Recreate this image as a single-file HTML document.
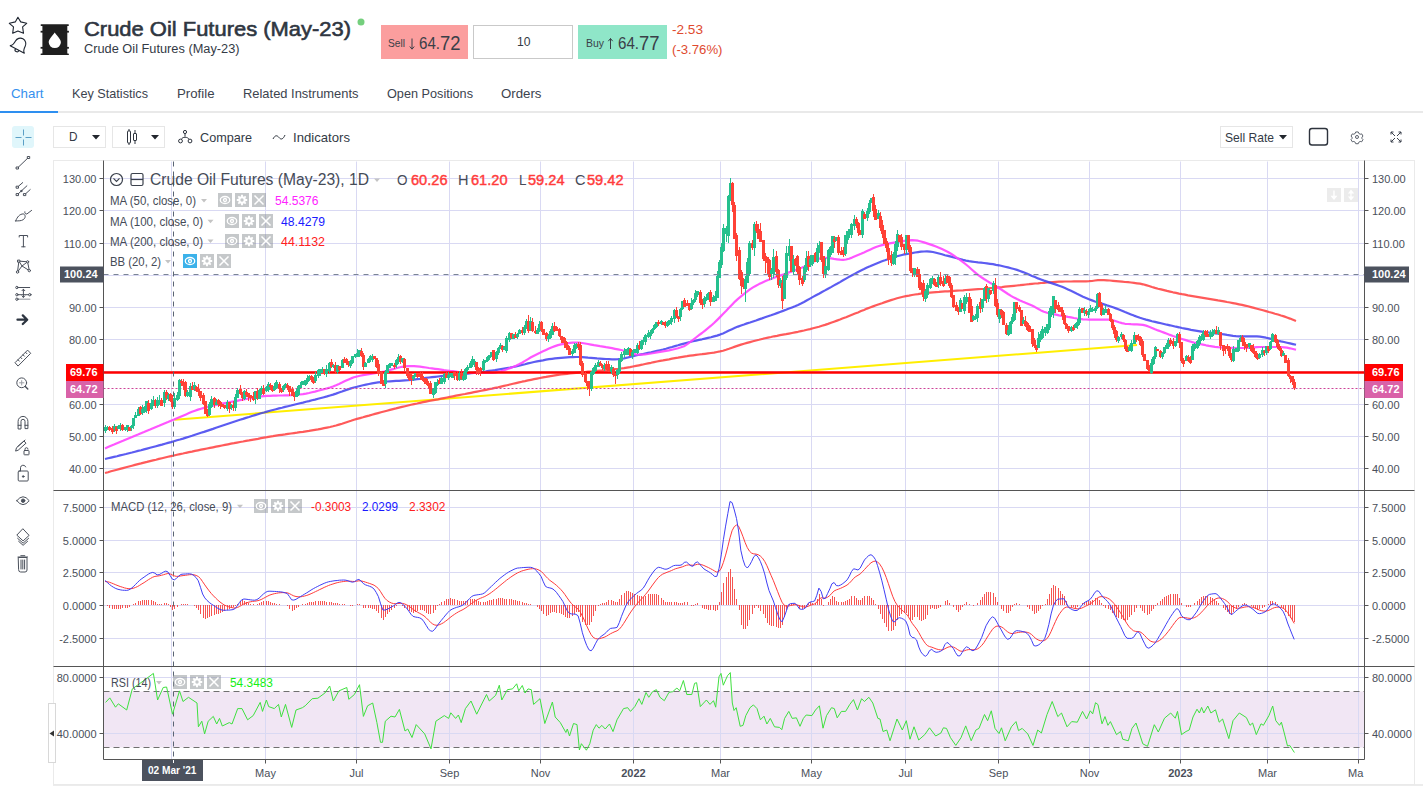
<!DOCTYPE html>
<html lang="en"><head><meta charset="utf-8"><title>Crude Oil Futures (May-23)</title><style>
html,body{margin:0;padding:0;background:#fff}
body{width:1423px;height:786px;position:relative;overflow:hidden;font-family:"Liberation Sans",sans-serif}
.t{position:absolute;white-space:nowrap;display:inline-block;transform-origin:0 50%}
.b{position:absolute;box-sizing:border-box}
svg{position:absolute;left:0;top:0}
</style></head><body>

<div class="b" style="left:380.500px;top:25px;width:87.500px;height:34px;background:#fb9e9e"></div>
<div class="b" style="left:473px;top:25px;width:100px;height:34px;border:1px solid #c9c9c9;background:#fff"></div>
<div class="b" style="left:577.500px;top:25px;width:89.500px;height:34px;background:#8fe6c8"></div>
<div class="b" style="left:0;top:111px;width:1423px;height:2px;background:#e9e9e9"></div>
<div class="b" style="left:0;top:110.500px;width:58px;height:2.500px;background:#2e8ff0"></div>
<div class="b" style="left:53px;top:126px;width:52.500px;height:21.500px;border:1px solid #e6e6e6"></div>
<div class="b" style="left:112px;top:126px;width:52.500px;height:21.500px;border:1px solid #e6e6e6"></div>
<div class="b" style="left:1219.500px;top:126px;width:73px;height:21.500px;border:1px solid #e6e6e6"></div>
<svg width="1423" height="786" viewBox="0 0 1423 786" style="position:absolute;left:0;top:0" font-family="'Liberation Sans', sans-serif">
<rect x="53" y="784" width="1370" height="2" fill="#ececec"/>
<rect x="53.5" y="160.5" width="1361.0" height="624.0" fill="#fff" stroke="#eaeaea"/>
<rect x="104.0" y="691.5" width="1260.0" height="56" fill="#f1e6f4"/>
<path d="M171.5 161.5V759.5M265.5 161.5V759.5M356.5 161.5V759.5M449.5 161.5V759.5M540.5 161.5V759.5M633.5 161.5V759.5M720.5 161.5V759.5M811.5 161.5V759.5M905.5 161.5V759.5M998.5 161.5V759.5M1089.5 161.5V759.5M1180.5 161.5V759.5M1267.5 161.5V759.5M1358.5 161.5V759.5M103.5 178.5H1364.5M103.5 210.5H1364.5M103.5 243.5H1364.5M103.5 275.5H1364.5M103.5 307.5H1364.5M103.5 339.5H1364.5M103.5 371.5H1364.5M103.5 404.5H1364.5M103.5 436.5H1364.5M103.5 468.5H1364.5M103.5 507.5H1364.5M103.5 540.5H1364.5M103.5 572.5H1364.5M103.5 605.5H1364.5M103.5 638.5H1364.5M103.5 677.5H1364.5M103.5 733.5H1364.5" stroke="#d9d9f3" stroke-width="1" fill="none"/>
<path d="M103.5 691.5H1364.5M103.5 747.5H1364.5" stroke="#707070" stroke-width="1" stroke-dasharray="6 4" fill="none"/>
<line x1="174.4" y1="419.8" x2="1137" y2="345" stroke="#ffee00" stroke-width="2"/>
<polyline points="105,473 108,472.2 111,471.3 114,470.5 117,469.7 120,468.9 123,468.1 126,467.3 129,466.5 132,465.7 135,464.9 138,464.1 141,463.4 144,462.6 147,461.9 150,461.1 153,460.4 156,459.7 159,458.9 162,458.2 165,457.5 168,456.8 171,456.1 174,455.5 177,454.8 180,454.1 183,453.5 186,452.8 189,452.2 192,451.6 195,450.9 198,450.3 201,449.7 204,449.1 207,448.5 210,447.9 213,447.3 216,446.7 219,446.1 222,445.5 225,444.9 228,444.3 231,443.7 234,443.2 237,442.6 240,442 243,441.5 246,440.9 249,440.4 252,439.8 255,439.3 258,438.8 261,438.2 264,437.7 267,437.2 270,436.6 273,436.2 276,435.7 279,435.2 282,434.8 285,434.4 288,433.9 291,433.5 294,433.1 297,432.7 300,432.2 303,431.8 306,431.3 309,430.9 312,430.4 315,429.9 318,429.4 321,428.8 324,428.2 327,427.6 330,427 333,426.3 336,425.5 339,424.6 342,423.7 345,422.7 348,421.7 351,420.8 354,419.8 357,418.9 360,418.1 363,417.3 366,416.4 369,415.6 372,414.7 375,413.9 378,413.1 381,412.3 384,411.5 387,410.7 390,409.9 393,409.1 396,408.4 399,407.6 402,406.9 405,406.2 408,405.5 411,404.8 414,404.1 417,403.5 420,402.8 423,402.2 426,401.6 429,401 432,400.4 435,399.8 438,399.3 441,398.7 444,398.1 447,397.5 450,396.9 453,396.3 456,395.7 459,395.1 462,394.5 465,394 468,393.4 471,392.8 474,392.2 477,391.6 480,391 483,390.4 486,389.8 489,389.2 492,388.6 495,387.9 498,387.3 501,386.6 504,385.9 507,385.2 510,384.5 513,383.8 516,383.1 519,382.4 522,381.7 525,381.1 528,380.4 531,379.8 534,379.2 537,378.6 540,378 543,377.4 546,376.9 549,376.3 552,375.8 555,375.3 558,374.9 561,374.5 564,374.1 567,373.8 570,373.5 573,373.2 576,372.9 579,372.6 582,372.3 585,372 588,371.7 591,371.5 594,371.2 597,370.9 600,370.6 603,370.4 606,370.1 609,369.8 612,369.5 615,369.2 618,368.9 621,368.5 624,368.1 627,367.6 630,367.1 633,366.5 636,365.9 639,365.3 642,364.7 645,364 648,363.4 651,362.8 654,362.1 657,361.5 660,360.9 663,360.4 666,359.8 669,359.3 672,358.7 675,358.2 678,357.7 681,357.1 684,356.6 687,356.2 690,355.7 693,355.3 696,354.9 699,354.5 702,354.2 705,353.8 708,353.4 711,353 714,352.6 717,352 720,351.4 723,350.7 726,349.8 729,348.8 732,347.7 735,346.6 738,345.6 741,344.6 744,343.7 747,342.9 750,342.1 753,341.3 756,340.5 759,339.8 762,339 765,338.3 768,337.6 771,337 774,336.3 777,335.8 780,335.2 783,334.7 786,334.2 789,333.6 792,333 795,332.4 798,331.8 801,331.1 804,330.5 807,329.8 810,329.1 813,328.3 816,327.5 819,326.7 822,325.8 825,324.9 828,323.9 831,322.8 834,321.7 837,320.6 840,319.5 843,318.3 846,317.2 849,316 852,314.8 855,313.6 858,312.4 861,311.1 864,309.9 867,308.6 870,307.5 873,306.4 876,305.3 879,304.2 882,303.2 885,302.1 888,301.1 891,300.1 894,299.2 897,298.3 900,297.5 903,296.8 906,296.1 909,295.6 912,295 915,294.5 918,294.1 921,293.6 924,293.3 927,292.9 930,292.6 933,292.3 936,292.1 939,291.9 942,291.6 945,291.4 948,291.3 951,291.1 954,290.9 957,290.7 960,290.5 963,290.3 966,290 969,289.8 972,289.6 975,289.4 978,289.2 981,289 984,288.8 987,288.5 990,288.2 993,288 996,287.7 999,287.4 1002,287.1 1005,286.7 1008,286.4 1011,286.1 1014,285.8 1017,285.5 1020,285.2 1023,284.8 1026,284.5 1029,284.2 1032,283.8 1035,283.5 1038,283.3 1041,283 1044,282.8 1047,282.5 1050,282.3 1053,282.1 1056,281.9 1059,281.7 1062,281.6 1065,281.5 1068,281.5 1071,281.5 1074,281.4 1077,281.4 1080,281.4 1083,281.3 1086,281.3 1089,281.2 1092,281 1095,280.5 1098,280.1 1101,280 1104,280.1 1107,280.3 1110,280.5 1113,280.8 1116,281.1 1119,281.4 1122,281.7 1125,282 1128,282.2 1131,282.5 1134,282.9 1137,283.3 1140,283.7 1143,284.3 1146,285.1 1149,286 1152,287 1155,287.9 1158,288.7 1161,289.4 1164,290.1 1167,290.9 1170,291.6 1173,292.3 1176,292.9 1179,293.6 1182,294.2 1185,294.7 1188,295.3 1191,295.8 1194,296.3 1197,296.8 1200,297.3 1203,297.8 1206,298.3 1209,298.8 1212,299.3 1215,299.8 1218,300.4 1221,300.9 1224,301.4 1227,302 1230,302.5 1233,303.1 1236,303.7 1239,304.3 1242,304.9 1245,305.6 1248,306.3 1251,307.1 1254,307.9 1257,308.7 1260,309.5 1263,310.3 1266,311.1 1269,312 1272,312.8 1275,313.7 1278,314.5 1281,315.5 1284,316.4 1287,317.5 1290,318.6 1293,319.8 1296,321" fill="none" stroke="#ff4848" stroke-opacity="0.9" stroke-width="2.2" stroke-linejoin="round"/>
<polyline points="105,459 108,458.3 111,457.6 114,456.9 117,456.2 120,455.4 123,454.7 126,454 129,453.2 132,452.5 135,451.7 138,450.9 141,450.2 144,449.4 147,448.6 150,447.8 153,447 156,446.2 159,445.4 162,444.6 165,443.7 168,442.9 171,442.1 174,441.2 177,440.3 180,439.5 183,438.6 186,437.6 189,436.7 192,435.8 195,434.8 198,433.8 201,432.8 204,431.9 207,430.9 210,429.9 213,428.9 216,427.8 219,426.8 222,425.8 225,424.8 228,423.8 231,422.8 234,421.8 237,420.8 240,419.8 243,418.9 246,417.9 249,417 252,416 255,415.1 258,414.2 261,413.3 264,412.5 267,411.6 270,410.8 273,410 276,409.2 279,408.4 282,407.7 285,406.9 288,406.2 291,405.5 294,404.7 297,404 300,403.3 303,402.6 306,401.8 309,401.1 312,400.3 315,399.6 318,398.8 321,398 324,397.2 327,396.4 330,395.5 333,394.6 336,393.6 339,392.5 342,391.5 345,390.4 348,389.4 351,388.4 354,387.5 357,386.8 360,386 363,385.3 366,384.6 369,384 372,383.4 375,382.9 378,382.4 381,382.1 384,381.8 387,381.5 390,381.3 393,381.1 396,380.9 399,380.8 402,380.6 405,380.4 408,380.2 411,379.9 414,379.6 417,379.2 420,378.8 423,378.3 426,377.9 429,377.5 432,377.1 435,376.8 438,376.5 441,376.2 444,375.9 447,375.6 450,375.3 453,375.1 456,374.8 459,374.5 462,374.2 465,373.9 468,373.6 471,373.2 474,372.9 477,372.5 480,372.2 483,371.8 486,371.4 489,370.9 492,370.5 495,370.1 498,369.6 501,369.1 504,368.6 507,368.1 510,367.6 513,367 516,366.4 519,365.7 522,364.9 525,364.2 528,363.4 531,362.7 534,362 537,361.4 540,360.8 543,360.3 546,359.7 549,359.2 552,358.8 555,358.4 558,358.1 561,357.8 564,357.6 567,357.4 570,357.2 573,357.1 576,357 579,357 582,357.1 585,357.3 588,357.6 591,357.8 594,358.1 597,358.4 600,358.6 603,358.8 606,359 609,359.1 612,359.3 615,359.3 618,359.2 621,358.8 624,358.3 627,357.7 630,356.9 633,356.2 636,355.5 639,354.8 642,354.2 645,353.5 648,352.9 651,352.3 654,351.6 657,350.9 660,350.2 663,349.5 666,348.7 669,347.8 672,347 675,346.1 678,345.3 681,344.4 684,343.6 687,342.8 690,342 693,341.3 696,340.6 699,339.9 702,339.3 705,338.6 708,337.9 711,337.2 714,336.4 717,335.6 720,334.6 723,333.4 726,332.1 729,330.6 732,329.2 735,327.8 738,326.6 741,325.5 744,324.5 747,323.4 750,322.5 753,321.5 756,320.5 759,319.4 762,318.4 765,317.3 768,316.3 771,315.3 774,314.2 777,313.1 780,312 783,310.9 786,309.8 789,308.6 792,307.4 795,306.2 798,304.9 801,303.5 804,302 807,300.3 810,298.6 813,296.9 816,295.3 819,293.7 822,292 825,290.4 828,288.7 831,287.1 834,285.4 837,283.8 840,282.1 843,280.3 846,278.6 849,276.9 852,275.2 855,273.6 858,272 861,270.5 864,269.1 867,267.6 870,266.3 873,264.9 876,263.7 879,262.5 882,261.3 885,260.3 888,259.2 891,258.2 894,257.2 897,256.3 900,255.5 903,254.7 906,254.1 909,253.6 912,253.1 915,252.5 918,252.1 921,251.7 924,251.5 927,251.4 930,251.6 933,252 936,252.7 939,253.5 942,254.3 945,255.2 948,255.9 951,256.6 954,257.5 957,258.3 960,259.1 963,259.9 966,260.6 969,261.2 972,261.6 975,262 978,262.4 981,262.7 984,263 987,263.4 990,263.8 993,264.2 996,264.8 999,265.3 1002,266 1005,266.7 1008,267.4 1011,268.2 1014,269 1017,269.9 1020,271 1023,272.1 1026,273.3 1029,274.6 1032,275.9 1035,277.1 1038,278.4 1041,279.5 1044,280.6 1047,281.6 1050,282.6 1053,283.6 1056,284.6 1059,285.7 1062,286.8 1065,288.1 1068,289.4 1071,290.8 1074,292.3 1077,293.8 1080,295.2 1083,296.7 1086,298 1089,299.3 1092,300.4 1095,301.5 1098,302.5 1101,303.4 1104,304.4 1107,305.4 1110,306.3 1113,307.3 1116,308.4 1119,309.5 1122,310.7 1125,312 1128,313.2 1131,314.4 1134,315.6 1137,316.7 1140,317.8 1143,318.7 1146,319.6 1149,320.4 1152,321.2 1155,321.9 1158,322.6 1161,323.3 1164,324 1167,324.7 1170,325.3 1173,326 1176,326.7 1179,327.3 1182,328 1185,328.6 1188,329.2 1191,329.8 1194,330.3 1197,330.8 1200,331.3 1203,331.8 1206,332.2 1209,332.5 1212,332.9 1215,333.3 1218,333.6 1221,334 1224,334.4 1227,334.9 1230,335.3 1233,335.8 1236,336.1 1239,336.3 1242,336.4 1245,336.4 1248,336.4 1251,336.4 1254,336.4 1257,336.4 1260,336.6 1263,337.1 1266,337.7 1269,338.4 1272,339.2 1275,340 1278,340.7 1281,341.4 1284,342 1287,342.7 1290,343.4 1293,344.1 1296,344.8" fill="none" stroke="#4040ee" stroke-opacity="0.85" stroke-width="2.2" stroke-linejoin="round"/>
<polyline points="105,448.4 108,447.1 111,445.8 114,444.6 117,443.3 120,442 123,440.8 126,439.5 129,438.2 132,437 135,435.7 138,434.5 141,433.2 144,432 147,430.7 150,429.5 153,428.2 156,427 159,425.8 162,424.5 165,423.3 168,422.1 171,420.8 174,419.6 177,418.3 180,417 183,415.7 186,414.4 189,413.1 192,411.8 195,410.7 198,409.6 201,408.7 204,407.9 207,407.1 210,406.3 213,405.6 216,404.9 219,404.3 222,403.7 225,403.1 228,402.5 231,401.9 234,401.3 237,400.8 240,400.2 243,399.6 246,399 249,398.4 252,397.8 255,397.3 258,396.8 261,396.4 264,396.1 267,395.9 270,395.8 273,395.7 276,395.6 279,395.5 282,395.5 285,395.4 288,395.3 291,395.2 294,395 297,394.8 300,394.5 303,394.1 306,393.6 309,393 312,392.3 315,391.6 318,390.8 321,390 324,389.2 327,388.4 330,387.5 333,386.5 336,385.3 339,384 342,382.6 345,381.1 348,379.7 351,378.4 354,377.3 357,376.5 360,375.8 363,375.1 366,374.6 369,374.1 372,373.6 375,373.1 378,372.6 381,372.1 384,371.5 387,370.7 390,369.9 393,369.1 396,368.2 399,367.5 402,366.8 405,366.3 408,366.1 411,366 414,366.1 417,366.4 420,366.7 423,367.1 426,367.5 429,368 432,368.4 435,368.8 438,369.2 441,369.6 444,370.1 447,370.5 450,370.9 453,371.2 456,371.6 459,372 462,372.4 465,372.7 468,372.9 471,373 474,373 477,373 480,373 483,373 486,373 489,373 492,372.9 495,372.6 498,372 501,371.2 504,370.2 507,369.2 510,368.1 513,367 516,365.8 519,364.3 522,362.7 525,360.9 528,359.1 531,357.3 534,355.7 537,354.2 540,352.8 543,351.3 546,349.9 549,348.5 552,347.2 555,346.1 558,345.1 561,344.4 564,343.8 567,343.3 570,342.9 573,342.6 576,342.5 579,342.7 582,343 585,343.5 588,344 591,344.6 594,345.2 597,345.7 600,346.2 603,346.6 606,347.2 609,347.7 612,348.2 615,348.8 618,349.4 621,350 624,350.8 627,351.8 630,352.8 633,353.7 636,354.4 639,354.7 642,354.6 645,354.4 648,354 651,353.5 654,353 657,352.4 660,351.8 663,351.3 666,350.8 669,350.3 672,349.7 675,349 678,348.2 681,347.3 684,346.2 687,344.4 690,342.2 693,339.9 696,337.5 699,335.2 702,333 705,330.6 708,328.2 711,325.7 714,323 717,320.1 720,317.1 723,314 726,311 729,307.8 732,304.7 735,301.6 738,298.9 741,296.4 744,293.9 747,291.6 750,289.4 753,287.4 756,285.7 759,284.1 762,282.7 765,281.3 768,280.1 771,278.9 774,277.7 777,276.6 780,275.6 783,274.6 786,273.5 789,272.4 792,271.4 795,270.3 798,269.1 801,267.9 804,266.7 807,265.4 810,263.9 813,262.1 816,260.3 819,258.8 822,257.9 825,257.8 828,258.1 831,258.4 834,258.9 837,259.3 840,259.7 843,259.8 846,259.5 849,258.7 852,257.6 855,256.3 858,255 861,253.8 864,252.5 867,251.1 870,249.7 873,248.3 876,247 879,246 882,245.1 885,244.4 888,243.7 891,243.1 894,242.6 897,242.1 900,241.6 903,241.1 906,240.7 909,240.4 912,240.2 915,240.3 918,240.7 921,241.5 924,242.4 927,243.4 930,244.4 933,245.4 936,246.5 939,247.7 942,249.1 945,250.5 948,252 951,253.8 954,255.7 957,257.8 960,259.9 963,262.2 966,264.5 969,267 972,269.7 975,272.3 978,274.8 981,277 984,279 987,280.9 990,282.7 993,284.4 996,286.2 999,288.1 1002,290 1005,292 1008,294 1011,295.9 1014,297.6 1017,299.1 1020,300.5 1023,301.8 1026,303 1029,304.3 1032,305.6 1035,307.1 1038,308.8 1041,310.4 1044,311.8 1047,312.7 1050,313.5 1053,314.1 1056,314.7 1059,315.3 1062,315.8 1065,316.3 1068,316.9 1071,317.4 1074,318 1077,318.5 1080,318.9 1083,319.3 1086,319.5 1089,319.6 1092,319.6 1095,319.6 1098,319.6 1101,319.6 1104,319.6 1107,319.6 1110,319.7 1113,320.2 1116,321.2 1119,322.2 1122,323.1 1125,323.8 1128,324 1131,324.2 1134,324.3 1137,324.4 1140,324.6 1143,324.9 1146,325.6 1149,326.7 1152,327.9 1155,329.2 1158,330.4 1161,331.5 1164,332.6 1167,333.7 1170,334.9 1173,336 1176,337 1179,338.1 1182,339 1185,339.9 1188,340.9 1191,341.7 1194,342.6 1197,343.3 1200,344 1203,344.6 1206,345.3 1209,345.9 1212,346.4 1215,346.9 1218,347.2 1221,347.4 1224,347.6 1227,347.7 1230,347.8 1233,347.9 1236,348 1239,348 1242,348 1245,347.9 1248,347.8 1251,347.6 1254,347.4 1257,347.2 1260,347 1263,347 1266,347 1269,347 1272,347 1275,347 1278,347 1281,347 1284,347.3 1287,347.7 1290,348.3 1293,349 1296,349.7" fill="none" stroke="#ff44ff" stroke-opacity="0.9" stroke-width="2.2" stroke-linejoin="round"/>
<line x1="103.5" y1="372.5" x2="1364.5" y2="372.5" stroke="#ff0000" stroke-width="2.5"/>
<line x1="103.5" y1="388.5" x2="1364.5" y2="388.5" stroke="#cc4499" stroke-width="1" stroke-dasharray="2 2"/>
<g shape-rendering="crispEdges"><path fill="#25c08e" d="M105 425h1V433h-1zM104 427h3V431h-3zM107 426h1V430h-1zM106 427h3V430h-3z"/><path fill="#ff4136" d="M109 426h1V431h-1zM108 427h3V430h-3zM112 426h1V434h-1zM111 428h3V432h-3z"/><path fill="#25c08e" d="M114 424h1V432h-1zM113 426h3V429h-3z"/><path fill="#ff4136" d="M116 426h1V434h-1zM115 427h3V431h-3z"/><path fill="#25c08e" d="M118 425h1V429h-1zM117 426h3V429h-3zM120 423h1V431h-1zM119 425h3V429h-3z"/><path fill="#ff4136" d="M122 424h1V431h-1zM121 425h3V430h-3z"/><path fill="#25c08e" d="M125 427h1V431h-1zM124 427h3V430h-3zM127 425h1V432h-1zM126 425h3V430h-3z"/><path fill="#ff4136" d="M129 427h1V431h-1zM128 427h3V431h-3z"/><path fill="#25c08e" d="M131 425h1V431h-1zM130 426h3V428h-3zM133 418h1V429h-1zM132 418h3V426h-3zM135 412h1V418h-1zM134 415h3V418h-3zM138 407h1V416h-1zM137 409h3V416h-3z"/><path fill="#ff4136" d="M140 406h1V415h-1zM139 407h3V414h-3z"/><path fill="#25c08e" d="M142 405h1V415h-1zM141 409h3V413h-3zM144 406h1V413h-1zM143 407h3V412h-3zM146 401h1V413h-1zM145 401h3V410h-3z"/><path fill="#ff4136" d="M148 400h1V414h-1zM147 403h3V411h-3z"/><path fill="#25c08e" d="M151 399h1V410h-1zM150 403h3V409h-3zM153 396h1V406h-1zM152 400h3V404h-3z"/><path fill="#ff4136" d="M155 399h1V408h-1zM154 400h3V406h-3z"/><path fill="#25c08e" d="M157 397h1V408h-1zM156 400h3V406h-3zM159 395h1V405h-1zM158 400h3V402h-3z"/><path fill="#ff4136" d="M161 398h1V406h-1zM160 400h3V406h-3z"/><path fill="#25c08e" d="M164 390h1V407h-1zM163 392h3V403h-3z"/><path fill="#ff4136" d="M166 390h1V400h-1zM165 392h3V398h-3z"/><path fill="#25c08e" d="M168 393h1V401h-1zM167 395h3V399h-3z"/><path fill="#ff4136" d="M170 393h1V402h-1zM169 394h3V401h-3zM172 395h1V409h-1zM171 399h3V407h-3z"/><path fill="#25c08e" d="M174 393h1V409h-1zM173 398h3V407h-3zM177 392h1V401h-1zM176 395h3V400h-3zM179 379h1V399h-1zM178 380h3V396h-3z"/><path fill="#ff4136" d="M181 379h1V386h-1zM180 381h3V383h-3zM183 379h1V390h-1zM182 383h3V386h-3zM185 381h1V397h-1zM184 382h3V396h-3z"/><path fill="#25c08e" d="M187 390h1V397h-1zM186 392h3V396h-3zM190 383h1V401h-1zM189 386h3V397h-3z"/><path fill="#ff4136" d="M192 382h1V390h-1zM191 386h3V390h-3z"/><path fill="#25c08e" d="M194 382h1V391h-1zM193 385h3V389h-3z"/><path fill="#ff4136" d="M196 386h1V392h-1zM195 387h3V391h-3zM198 384h1V396h-1zM197 389h3V392h-3zM200 391h1V401h-1zM199 391h3V398h-3zM203 393h1V405h-1zM202 395h3V404h-3zM205 401h1V414h-1zM204 401h3V414h-3zM207 409h1V417h-1zM206 410h3V416h-3z"/><path fill="#25c08e" d="M209 402h1V416h-1zM208 404h3V415h-3zM211 396h1V408h-1zM210 399h3V407h-3z"/><path fill="#ff4136" d="M214 397h1V408h-1zM213 398h3V405h-3z"/><path fill="#25c08e" d="M216 399h1V405h-1zM215 402h3V405h-3z"/><path fill="#ff4136" d="M218 399h1V407h-1zM217 400h3V404h-3zM220 401h1V409h-1zM219 402h3V406h-3zM222 404h1V407h-1zM221 404h3V407h-3zM224 405h1V409h-1zM223 405h3V408h-3z"/><path fill="#25c08e" d="M227 400h1V411h-1zM226 402h3V409h-3z"/><path fill="#ff4136" d="M229 402h1V413h-1zM228 402h3V409h-3z"/><path fill="#25c08e" d="M231 404h1V410h-1zM230 405h3V408h-3z"/><path fill="#ff4136" d="M233 401h1V411h-1zM232 405h3V408h-3z"/><path fill="#25c08e" d="M235 394h1V411h-1zM234 397h3V408h-3zM237 388h1V398h-1zM236 390h3V398h-3z"/><path fill="#ff4136" d="M240 385h1V395h-1zM239 389h3V394h-3zM242 392h1V401h-1zM241 393h3V398h-3z"/><path fill="#25c08e" d="M244 390h1V400h-1zM243 391h3V399h-3z"/><path fill="#ff4136" d="M246 389h1V397h-1zM245 392h3V395h-3zM248 393h1V401h-1zM247 393h3V397h-3zM250 395h1V402h-1zM249 395h3V398h-3zM253 392h1V401h-1zM252 396h3V400h-3z"/><path fill="#25c08e" d="M255 391h1V404h-1zM254 391h3V399h-3z"/><path fill="#ff4136" d="M257 388h1V400h-1zM256 391h3V398h-3z"/><path fill="#25c08e" d="M259 389h1V399h-1zM258 390h3V399h-3zM261 386h1V395h-1zM260 388h3V392h-3z"/><path fill="#ff4136" d="M263 385h1V395h-1zM262 389h3V394h-3z"/><path fill="#25c08e" d="M266 386h1V392h-1zM265 387h3V391h-3zM268 382h1V392h-1zM267 384h3V390h-3z"/><path fill="#ff4136" d="M270 383h1V390h-1zM269 385h3V387h-3zM272 385h1V392h-1zM271 386h3V391h-3z"/><path fill="#25c08e" d="M274 383h1V391h-1zM273 386h3V390h-3zM276 380h1V389h-1zM275 382h3V388h-3z"/><path fill="#ff4136" d="M279 382h1V393h-1zM278 384h3V389h-3zM281 388h1V393h-1zM280 388h3V392h-3z"/><path fill="#25c08e" d="M283 385h1V392h-1zM282 386h3V390h-3zM285 383h1V388h-1zM284 384h3V388h-3z"/><path fill="#ff4136" d="M287 383h1V390h-1zM286 385h3V388h-3zM289 386h1V396h-1zM288 386h3V392h-3zM292 387h1V396h-1zM291 389h3V396h-3zM294 392h1V401h-1zM293 394h3V397h-3z"/><path fill="#25c08e" d="M296 389h1V397h-1zM295 391h3V397h-3zM298 385h1V396h-1zM297 386h3V395h-3zM300 382h1V388h-1zM299 385h3V388h-3zM302 381h1V385h-1zM301 381h3V385h-3zM305 380h1V386h-1zM304 380h3V385h-3zM307 375h1V384h-1zM306 378h3V382h-3zM309 375h1V381h-1zM308 376h3V380h-3z"/><path fill="#ff4136" d="M311 375h1V382h-1zM310 376h3V380h-3zM313 377h1V384h-1zM312 377h3V383h-3z"/><path fill="#25c08e" d="M315 372h1V383h-1zM314 375h3V381h-3zM318 369h1V378h-1zM317 370h3V376h-3zM320 369h1V376h-1zM319 369h3V373h-3zM322 367h1V373h-1zM321 369h3V371h-3z"/><path fill="#ff4136" d="M324 369h1V375h-1zM323 369h3V373h-3z"/><path fill="#25c08e" d="M326 365h1V377h-1zM325 369h3V374h-3zM329 362h1V373h-1zM328 363h3V371h-3z"/><path fill="#ff4136" d="M331 359h1V368h-1zM330 362h3V367h-3z"/><path fill="#25c08e" d="M333 364h1V368h-1zM332 365h3V367h-3z"/><path fill="#ff4136" d="M335 362h1V374h-1zM334 365h3V372h-3z"/><path fill="#25c08e" d="M337 365h1V374h-1zM336 365h3V372h-3z"/><path fill="#ff4136" d="M339 366h1V371h-1zM338 366h3V370h-3z"/><path fill="#25c08e" d="M342 359h1V368h-1zM341 360h3V368h-3z"/><path fill="#ff4136" d="M344 357h1V363h-1zM343 359h3V363h-3zM346 358h1V365h-1zM345 359h3V363h-3zM348 361h1V367h-1zM347 361h3V365h-3z"/><path fill="#25c08e" d="M350 360h1V368h-1zM349 361h3V366h-3zM352 356h1V364h-1zM351 356h3V363h-3zM355 354h1V358h-1zM354 354h3V357h-3zM357 349h1V357h-1zM356 353h3V357h-3zM359 350h1V357h-1zM358 350h3V353h-3z"/><path fill="#ff4136" d="M361 348h1V357h-1zM360 351h3V356h-3zM363 353h1V370h-1zM362 355h3V367h-3z"/><path fill="#25c08e" d="M365 362h1V367h-1zM364 363h3V367h-3zM368 358h1V363h-1zM367 359h3V363h-3zM370 355h1V362h-1zM369 356h3V360h-3zM372 354h1V362h-1zM371 357h3V360h-3z"/><path fill="#ff4136" d="M374 356h1V359h-1zM373 356h3V359h-3zM376 358h1V368h-1zM375 358h3V367h-3zM378 360h1V376h-1zM377 364h3V374h-3zM381 371h1V384h-1zM380 372h3V384h-3zM383 380h1V386h-1zM382 382h3V386h-3z"/><path fill="#25c08e" d="M385 370h1V388h-1zM384 372h3V384h-3zM387 365h1V373h-1zM386 365h3V373h-3zM389 363h1V368h-1zM388 364h3V368h-3zM391 363h1V366h-1zM390 363h3V366h-3z"/><path fill="#ff4136" d="M394 363h1V369h-1zM393 365h3V367h-3z"/><path fill="#25c08e" d="M396 359h1V368h-1zM395 360h3V365h-3zM398 354h1V364h-1zM397 357h3V362h-3z"/><path fill="#ff4136" d="M400 355h1V364h-1zM399 356h3V362h-3z"/><path fill="#25c08e" d="M402 358h1V363h-1zM401 358h3V362h-3z"/><path fill="#ff4136" d="M404 358h1V371h-1zM403 359h3V368h-3zM407 368h1V378h-1zM406 368h3V376h-3zM409 374h1V381h-1zM408 374h3V380h-3zM411 373h1V385h-1zM410 375h3V380h-3z"/><path fill="#25c08e" d="M413 375h1V381h-1zM412 376h3V379h-3zM415 373h1V377h-1zM414 373h3V377h-3z"/><path fill="#ff4136" d="M417 373h1V378h-1zM416 373h3V377h-3zM420 372h1V380h-1zM419 373h3V377h-3zM422 372h1V381h-1zM421 376h3V380h-3zM424 378h1V384h-1zM423 378h3V382h-3zM426 378h1V385h-1zM425 379h3V384h-3zM428 381h1V388h-1zM427 383h3V386h-3zM430 381h1V394h-1zM429 383h3V394h-3z"/><path fill="#25c08e" d="M433 388h1V398h-1zM432 389h3V395h-3zM435 382h1V394h-1zM434 382h3V393h-3zM437 379h1V386h-1zM436 382h3V385h-3z"/><path fill="#ff4136" d="M439 378h1V384h-1zM438 380h3V384h-3z"/><path fill="#25c08e" d="M441 377h1V384h-1zM440 378h3V384h-3zM444 373h1V384h-1zM443 374h3V382h-3z"/><path fill="#ff4136" d="M446 372h1V378h-1zM445 374h3V378h-3z"/><path fill="#25c08e" d="M448 372h1V380h-1zM447 375h3V378h-3zM450 373h1V377h-1zM449 374h3V377h-3zM452 373h1V378h-1zM451 373h3V378h-3z"/><path fill="#ff4136" d="M454 372h1V380h-1zM453 372h3V376h-3zM457 371h1V381h-1zM456 374h3V380h-3z"/><path fill="#25c08e" d="M459 371h1V381h-1zM458 373h3V380h-3z"/><path fill="#ff4136" d="M461 369h1V380h-1zM460 373h3V379h-3z"/><path fill="#25c08e" d="M463 372h1V381h-1zM462 376h3V380h-3zM465 368h1V380h-1zM464 369h3V379h-3zM467 365h1V372h-1zM466 367h3V370h-3zM470 361h1V368h-1zM469 363h3V368h-3zM472 356h1V367h-1zM471 359h3V364h-3zM474 359h1V367h-1zM473 361h3V365h-3z"/><path fill="#ff4136" d="M476 362h1V375h-1zM475 362h3V370h-3zM478 367h1V375h-1zM477 369h3V373h-3zM480 367h1V376h-1zM479 368h3V371h-3z"/><path fill="#25c08e" d="M483 359h1V371h-1zM482 361h3V370h-3zM485 360h1V363h-1zM484 360h3V362h-3zM487 356h1V362h-1zM486 357h3V361h-3zM489 355h1V360h-1zM488 355h3V358h-3zM491 352h1V357h-1zM490 352h3V356h-3z"/><path fill="#ff4136" d="M493 350h1V361h-1zM492 350h3V360h-3z"/><path fill="#25c08e" d="M496 351h1V362h-1zM495 352h3V359h-3zM498 347h1V355h-1zM497 348h3V353h-3zM500 343h1V349h-1zM499 345h3V348h-3z"/><path fill="#ff4136" d="M502 345h1V352h-1zM501 346h3V350h-3z"/><path fill="#25c08e" d="M504 346h1V350h-1zM503 347h3V350h-3zM506 336h1V353h-1zM505 338h3V351h-3zM509 332h1V342h-1zM508 333h3V340h-3z"/><path fill="#ff4136" d="M511 333h1V339h-1zM510 333h3V338h-3z"/><path fill="#25c08e" d="M513 334h1V339h-1zM512 334h3V339h-3z"/><path fill="#ff4136" d="M515 332h1V338h-1zM514 335h3V338h-3z"/><path fill="#25c08e" d="M517 333h1V339h-1zM516 334h3V337h-3zM519 329h1V334h-1zM518 330h3V334h-3z"/><path fill="#ff4136" d="M522 327h1V335h-1zM521 330h3V333h-3z"/><path fill="#25c08e" d="M524 325h1V335h-1zM523 327h3V333h-3zM526 319h1V329h-1zM525 321h3V328h-3z"/><path fill="#ff4136" d="M528 315h1V333h-1zM527 321h3V331h-3z"/><path fill="#25c08e" d="M530 317h1V331h-1zM529 321h3V330h-3z"/><path fill="#ff4136" d="M532 318h1V332h-1zM531 322h3V331h-3zM535 326h1V334h-1zM534 331h3V333h-3z"/><path fill="#25c08e" d="M537 328h1V334h-1zM536 330h3V334h-3zM539 321h1V332h-1zM538 324h3V331h-3z"/><path fill="#ff4136" d="M541 321h1V332h-1zM540 322h3V330h-3zM543 329h1V335h-1zM542 329h3V335h-3zM546 332h1V341h-1zM545 333h3V339h-3z"/><path fill="#25c08e" d="M548 334h1V342h-1zM547 336h3V339h-3zM550 329h1V339h-1zM549 331h3V338h-3zM552 323h1V335h-1zM551 326h3V335h-3z"/><path fill="#ff4136" d="M554 322h1V332h-1zM553 326h3V331h-3zM556 326h1V331h-1zM555 327h3V331h-3zM559 328h1V337h-1zM558 329h3V336h-3zM561 336h1V343h-1zM560 336h3V340h-3zM563 337h1V343h-1zM562 337h3V343h-3zM565 338h1V348h-1zM564 341h3V348h-3zM567 342h1V350h-1zM566 345h3V350h-3zM569 346h1V355h-1zM568 348h3V355h-3z"/><path fill="#25c08e" d="M572 349h1V356h-1zM571 351h3V354h-3zM574 343h1V353h-1zM573 345h3V353h-3zM576 343h1V349h-1zM575 344h3V348h-3z"/><path fill="#ff4136" d="M578 342h1V350h-1zM577 344h3V347h-3zM580 342h1V366h-1zM579 345h3V365h-3zM582 361h1V377h-1zM581 363h3V375h-3zM585 372h1V383h-1zM584 373h3V382h-3zM587 381h1V390h-1zM586 381h3V386h-3zM589 381h1V396h-1zM588 383h3V389h-3z"/><path fill="#25c08e" d="M591 371h1V391h-1zM590 372h3V389h-3zM593 367h1V375h-1zM592 368h3V374h-3zM595 363h1V372h-1zM594 365h3V371h-3zM598 360h1V367h-1zM597 362h3V367h-3z"/><path fill="#ff4136" d="M600 361h1V366h-1zM599 363h3V366h-3zM602 364h1V370h-1zM601 365h3V368h-3z"/><path fill="#25c08e" d="M604 363h1V371h-1zM603 365h3V369h-3z"/><path fill="#ff4136" d="M606 361h1V370h-1zM605 364h3V369h-3zM608 361h1V372h-1zM607 364h3V371h-3z"/><path fill="#25c08e" d="M611 365h1V374h-1zM610 367h3V372h-3z"/><path fill="#ff4136" d="M613 367h1V377h-1zM612 369h3V375h-3zM615 373h1V384h-1zM614 373h3V376h-3z"/><path fill="#25c08e" d="M617 369h1V379h-1zM616 370h3V375h-3zM619 358h1V374h-1zM618 360h3V372h-3zM621 352h1V362h-1zM620 354h3V361h-3zM624 348h1V358h-1zM623 351h3V355h-3zM626 349h1V355h-1zM625 349h3V355h-3zM628 347h1V355h-1zM627 348h3V353h-3z"/><path fill="#ff4136" d="M630 348h1V356h-1zM629 349h3V356h-3z"/><path fill="#25c08e" d="M632 350h1V359h-1zM631 352h3V356h-3zM634 349h1V353h-1zM633 349h3V353h-3zM637 343h1V354h-1zM636 345h3V353h-3z"/><path fill="#ff4136" d="M639 341h1V350h-1zM638 345h3V349h-3z"/><path fill="#25c08e" d="M641 340h1V350h-1zM640 341h3V349h-3zM643 337h1V345h-1zM642 340h3V342h-3zM645 334h1V345h-1zM644 335h3V342h-3zM648 330h1V338h-1zM647 333h3V337h-3zM650 330h1V339h-1zM649 332h3V336h-3zM652 328h1V334h-1zM651 329h3V333h-3zM654 324h1V330h-1zM653 325h3V329h-3zM656 322h1V328h-1zM655 322h3V327h-3z"/><path fill="#ff4136" d="M658 320h1V326h-1zM657 322h3V324h-3z"/><path fill="#25c08e" d="M661 320h1V325h-1zM660 321h3V324h-3z"/><path fill="#ff4136" d="M663 322h1V325h-1zM662 322h3V325h-3zM665 321h1V328h-1zM664 322h3V326h-3z"/><path fill="#25c08e" d="M667 321h1V327h-1zM666 322h3V326h-3zM669 320h1V325h-1zM668 320h3V324h-3zM671 316h1V325h-1zM670 318h3V322h-3zM674 309h1V323h-1zM673 310h3V319h-3z"/><path fill="#ff4136" d="M676 307h1V318h-1zM675 310h3V316h-3zM678 316h1V322h-1zM677 316h3V319h-3z"/><path fill="#25c08e" d="M680 308h1V321h-1zM679 309h3V317h-3zM682 301h1V310h-1zM681 301h3V309h-3z"/><path fill="#ff4136" d="M684 298h1V307h-1zM683 300h3V307h-3zM687 300h1V306h-1zM686 303h3V306h-3zM689 303h1V311h-1zM688 305h3V310h-3z"/><path fill="#25c08e" d="M691 298h1V310h-1zM690 303h3V309h-3zM693 299h1V305h-1zM692 300h3V303h-3zM695 290h1V302h-1zM694 293h3V300h-3zM697 291h1V297h-1zM696 291h3V295h-3z"/><path fill="#ff4136" d="M700 290h1V305h-1zM699 292h3V303h-3zM702 299h1V309h-1zM701 299h3V305h-3z"/><path fill="#25c08e" d="M704 296h1V307h-1zM703 298h3V304h-3zM706 294h1V301h-1zM705 297h3V300h-3zM708 292h1V300h-1zM707 293h3V299h-3z"/><path fill="#ff4136" d="M710 290h1V306h-1zM709 292h3V302h-3z"/><path fill="#25c08e" d="M713 295h1V302h-1zM712 297h3V302h-3zM715 291h1V301h-1zM714 296h3V301h-3zM717 271h1V298h-1zM716 276h3V298h-3zM719 260h1V278h-1zM718 262h3V278h-3zM721 243h1V268h-1zM720 247h3V265h-3zM723 224h1V252h-1zM722 228h3V251h-3zM726 226h1V242h-1zM725 228h3V234h-3zM728 195h1V243h-1zM727 196h3V236h-3zM730 178h1V201h-1zM729 183h3V200h-3z"/><path fill="#ff4136" d="M732 182h1V212h-1zM731 183h3V205h-3zM734 202h1V239h-1zM733 205h3V239h-3zM736 233h1V261h-1zM735 235h3V256h-3zM739 247h1V280h-1zM738 250h3V279h-3zM741 270h1V294h-1zM740 272h3V286h-3zM743 278h1V289h-1zM742 281h3V287h-3z"/><path fill="#25c08e" d="M745 276h1V302h-1zM744 279h3V289h-3zM747 258h1V283h-1zM746 262h3V283h-3zM749 241h1V276h-1zM748 243h3V274h-3z"/><path fill="#ff4136" d="M752 240h1V250h-1zM751 243h3V248h-3z"/><path fill="#25c08e" d="M754 222h1V256h-1zM753 224h3V248h-3z"/><path fill="#ff4136" d="M756 221h1V233h-1zM755 224h3V231h-3zM758 224h1V239h-1zM757 229h3V239h-3zM760 223h1V242h-1zM759 231h3V242h-3zM763 240h1V261h-1zM762 240h3V259h-3zM765 253h1V273h-1zM764 256h3V261h-3zM767 257h1V275h-1zM766 257h3V263h-3zM769 259h1V280h-1zM768 260h3V277h-3z"/><path fill="#25c08e" d="M771 268h1V280h-1zM770 270h3V274h-3zM773 249h1V278h-1zM772 257h3V274h-3z"/><path fill="#ff4136" d="M776 251h1V277h-1zM775 256h3V272h-3zM778 269h1V288h-1zM777 270h3V285h-3z"/><path fill="#25c08e" d="M780 278h1V288h-1zM779 280h3V286h-3z"/><path fill="#ff4136" d="M782 276h1V309h-1zM781 283h3V301h-3z"/><path fill="#25c08e" d="M784 273h1V299h-1zM783 275h3V299h-3zM786 246h1V280h-1zM785 253h3V278h-3zM789 239h1V261h-1zM788 246h3V256h-3z"/><path fill="#ff4136" d="M791 246h1V272h-1zM790 246h3V272h-3z"/><path fill="#25c08e" d="M793 255h1V275h-1zM792 259h3V272h-3z"/><path fill="#ff4136" d="M795 258h1V266h-1zM794 259h3V265h-3zM797 255h1V275h-1zM796 256h3V272h-3zM799 266h1V285h-1zM798 267h3V280h-3zM802 276h1V286h-1zM801 278h3V284h-3z"/><path fill="#25c08e" d="M804 265h1V282h-1zM803 267h3V280h-3zM806 251h1V272h-1zM805 258h3V270h-3z"/><path fill="#ff4136" d="M808 251h1V271h-1zM807 256h3V267h-3z"/><path fill="#25c08e" d="M810 255h1V267h-1zM809 259h3V265h-3zM812 255h1V266h-1zM811 255h3V264h-3z"/><path fill="#ff4136" d="M815 252h1V262h-1zM814 253h3V262h-3z"/><path fill="#25c08e" d="M817 243h1V263h-1zM816 248h3V262h-3zM819 241h1V253h-1zM818 245h3V250h-3z"/><path fill="#ff4136" d="M821 242h1V262h-1zM820 242h3V260h-3zM823 256h1V278h-1zM822 256h3V274h-3z"/><path fill="#25c08e" d="M825 258h1V278h-1zM824 266h3V275h-3zM828 249h1V271h-1zM827 250h3V270h-3zM830 246h1V257h-1zM829 247h3V255h-3zM832 236h1V253h-1zM831 236h3V253h-3z"/><path fill="#ff4136" d="M834 236h1V248h-1zM833 239h3V242h-3z"/><path fill="#25c08e" d="M836 237h1V241h-1zM835 237h3V241h-3z"/><path fill="#ff4136" d="M838 235h1V255h-1zM837 237h3V253h-3zM841 247h1V255h-1zM840 251h3V255h-3zM843 247h1V257h-1zM842 250h3V255h-3z"/><path fill="#25c08e" d="M845 235h1V256h-1zM844 235h3V254h-3zM847 231h1V244h-1zM846 231h3V240h-3zM849 229h1V238h-1zM848 229h3V233h-3zM851 223h1V238h-1zM850 224h3V235h-3zM854 215h1V230h-1zM853 219h3V226h-3z"/><path fill="#ff4136" d="M856 217h1V228h-1zM855 219h3V224h-3zM858 222h1V236h-1zM857 223h3V233h-3zM860 230h1V235h-1zM859 230h3V235h-3z"/><path fill="#25c08e" d="M862 209h1V238h-1zM861 211h3V235h-3z"/><path fill="#ff4136" d="M864 212h1V219h-1zM863 214h3V219h-3z"/><path fill="#25c08e" d="M867 208h1V221h-1zM866 211h3V218h-3zM869 200h1V214h-1zM868 203h3V212h-3zM871 198h1V203h-1zM870 198h3V203h-3z"/><path fill="#ff4136" d="M873 194h1V217h-1zM872 197h3V211h-3zM875 205h1V220h-1zM874 209h3V220h-3z"/><path fill="#25c08e" d="M878 210h1V219h-1zM877 213h3V219h-3z"/><path fill="#ff4136" d="M880 212h1V231h-1zM879 216h3V228h-3zM882 220h1V238h-1zM881 225h3V234h-3zM884 230h1V244h-1zM883 230h3V244h-3zM886 238h1V252h-1zM885 241h3V248h-3zM888 243h1V265h-1zM887 248h3V260h-3zM891 251h1V266h-1zM890 255h3V263h-3z"/><path fill="#25c08e" d="M893 252h1V265h-1zM892 254h3V264h-3zM895 241h1V265h-1zM894 244h3V258h-3zM897 230h1V251h-1zM896 234h3V247h-3z"/><path fill="#ff4136" d="M899 235h1V242h-1zM898 235h3V242h-3zM901 234h1V250h-1zM900 237h3V247h-3zM904 244h1V254h-1zM903 244h3V250h-3z"/><path fill="#25c08e" d="M906 235h1V254h-1zM905 235h3V250h-3z"/><path fill="#ff4136" d="M908 235h1V252h-1zM907 235h3V249h-3zM910 245h1V273h-1zM909 247h3V271h-3zM912 268h1V277h-1zM911 270h3V273h-3z"/><path fill="#25c08e" d="M914 268h1V277h-1zM913 268h3V275h-3z"/><path fill="#ff4136" d="M917 267h1V277h-1zM916 269h3V277h-3zM919 269h1V290h-1zM918 274h3V288h-3zM921 282h1V294h-1zM920 285h3V290h-3zM923 280h1V301h-1zM922 283h3V297h-3z"/><path fill="#25c08e" d="M925 289h1V302h-1zM924 291h3V299h-3zM927 283h1V298h-1zM926 285h3V295h-3zM930 278h1V289h-1zM929 279h3V288h-3zM932 276h1V284h-1zM931 278h3V281h-3z"/><path fill="#ff4136" d="M934 278h1V286h-1zM933 279h3V285h-3zM936 282h1V287h-1zM935 284h3V287h-3z"/><path fill="#25c08e" d="M938 275h1V288h-1zM937 277h3V285h-3z"/><path fill="#ff4136" d="M940 272h1V286h-1zM939 277h3V284h-3zM943 276h1V287h-1zM942 281h3V286h-3z"/><path fill="#25c08e" d="M945 274h1V284h-1zM944 278h3V284h-3z"/><path fill="#ff4136" d="M947 275h1V283h-1zM946 276h3V283h-3zM949 276h1V288h-1zM948 277h3V286h-3zM951 283h1V298h-1zM950 285h3V297h-3zM953 295h1V308h-1zM952 295h3V307h-3zM956 302h1V311h-1zM955 305h3V311h-3zM958 307h1V315h-1zM957 307h3V312h-3z"/><path fill="#25c08e" d="M960 298h1V312h-1zM959 300h3V312h-3z"/><path fill="#ff4136" d="M962 303h1V309h-1zM961 303h3V309h-3z"/><path fill="#25c08e" d="M964 295h1V314h-1zM963 297h3V311h-3zM966 293h1V304h-1zM965 297h3V302h-3z"/><path fill="#ff4136" d="M969 293h1V313h-1zM968 297h3V313h-3zM971 299h1V322h-1zM970 306h3V322h-3z"/><path fill="#25c08e" d="M973 315h1V321h-1zM972 316h3V320h-3zM975 314h1V320h-1zM974 316h3V319h-3zM977 304h1V322h-1zM976 306h3V318h-3z"/><path fill="#ff4136" d="M980 298h1V313h-1zM979 302h3V309h-3z"/><path fill="#25c08e" d="M982 299h1V312h-1zM981 299h3V308h-3zM984 287h1V301h-1zM983 288h3V301h-3z"/><path fill="#ff4136" d="M986 284h1V303h-1zM985 286h3V299h-3z"/><path fill="#25c08e" d="M988 288h1V302h-1zM987 288h3V299h-3z"/><path fill="#ff4136" d="M990 290h1V295h-1zM989 290h3V294h-3z"/><path fill="#25c08e" d="M993 281h1V294h-1zM992 283h3V291h-3z"/><path fill="#ff4136" d="M995 278h1V307h-1zM994 285h3V306h-3zM997 299h1V317h-1zM996 303h3V315h-3z"/><path fill="#25c08e" d="M999 309h1V323h-1zM998 309h3V319h-3z"/><path fill="#ff4136" d="M1001 309h1V318h-1zM1000 310h3V315h-3zM1003 311h1V325h-1zM1002 312h3V325h-3zM1006 323h1V335h-1zM1005 325h3V334h-3z"/><path fill="#25c08e" d="M1008 325h1V336h-1zM1007 330h3V335h-3zM1010 321h1V334h-1zM1009 322h3V334h-3zM1012 314h1V324h-1zM1011 317h3V322h-3zM1014 302h1V321h-1zM1013 302h3V320h-3z"/><path fill="#ff4136" d="M1016 302h1V313h-1zM1015 302h3V309h-3zM1019 305h1V312h-1zM1018 307h3V311h-3zM1021 310h1V326h-1zM1020 310h3V326h-3z"/><path fill="#25c08e" d="M1023 317h1V324h-1zM1022 320h3V324h-3z"/><path fill="#ff4136" d="M1025 316h1V327h-1zM1024 321h3V326h-3zM1027 322h1V331h-1zM1026 323h3V330h-3zM1029 325h1V332h-1zM1028 326h3V332h-3zM1032 329h1V347h-1zM1031 329h3V344h-3zM1034 338h1V348h-1zM1033 340h3V346h-3zM1036 345h1V352h-1zM1035 345h3V350h-3z"/><path fill="#25c08e" d="M1038 332h1V348h-1zM1037 338h3V348h-3zM1040 331h1V342h-1zM1039 334h3V340h-3zM1042 326h1V339h-1zM1041 329h3V338h-3zM1045 327h1V336h-1zM1044 327h3V333h-3zM1047 324h1V334h-1zM1046 324h3V333h-3zM1049 308h1V330h-1zM1048 311h3V328h-3zM1051 306h1V317h-1zM1050 306h3V315h-3zM1053 296h1V318h-1zM1052 296h3V313h-3z"/><path fill="#ff4136" d="M1055 300h1V313h-1zM1054 300h3V309h-3zM1058 302h1V312h-1zM1057 305h3V310h-3zM1060 307h1V312h-1zM1059 307h3V312h-3zM1062 307h1V320h-1zM1061 310h3V316h-3zM1064 313h1V325h-1zM1063 315h3V324h-3zM1066 323h1V329h-1zM1065 324h3V329h-3zM1068 326h1V333h-1zM1067 326h3V331h-3z"/><path fill="#25c08e" d="M1071 326h1V332h-1zM1070 327h3V331h-3z"/><path fill="#ff4136" d="M1073 325h1V331h-1zM1072 327h3V330h-3z"/><path fill="#25c08e" d="M1075 323h1V328h-1zM1074 324h3V328h-3zM1077 319h1V329h-1zM1076 322h3V326h-3zM1079 307h1V325h-1zM1078 309h3V323h-3z"/><path fill="#ff4136" d="M1082 308h1V313h-1zM1081 308h3V313h-3z"/><path fill="#25c08e" d="M1084 307h1V316h-1zM1083 310h3V313h-3z"/><path fill="#ff4136" d="M1086 309h1V316h-1zM1085 311h3V314h-3z"/><path fill="#25c08e" d="M1088 309h1V318h-1zM1087 312h3V315h-3zM1090 305h1V312h-1zM1089 308h3V312h-3zM1092 307h1V312h-1zM1091 309h3V311h-3zM1095 306h1V313h-1zM1094 308h3V311h-3zM1097 293h1V309h-1zM1096 294h3V308h-3z"/><path fill="#ff4136" d="M1099 292h1V307h-1zM1098 293h3V307h-3zM1101 302h1V316h-1zM1100 304h3V315h-3z"/><path fill="#25c08e" d="M1103 308h1V315h-1zM1102 310h3V315h-3zM1105 305h1V313h-1zM1104 309h3V313h-3z"/><path fill="#ff4136" d="M1108 308h1V315h-1zM1107 309h3V315h-3zM1110 313h1V322h-1zM1109 314h3V321h-3zM1112 319h1V330h-1zM1111 320h3V328h-3zM1114 325h1V338h-1zM1113 327h3V334h-3zM1116 330h1V342h-1zM1115 331h3V340h-3z"/><path fill="#25c08e" d="M1118 336h1V343h-1zM1117 337h3V341h-3zM1121 332h1V339h-1zM1120 334h3V337h-3z"/><path fill="#ff4136" d="M1123 334h1V342h-1zM1122 335h3V340h-3zM1125 339h1V351h-1zM1124 340h3V349h-3zM1127 346h1V352h-1zM1126 347h3V352h-3z"/><path fill="#25c08e" d="M1129 345h1V351h-1zM1128 347h3V351h-3zM1131 340h1V352h-1zM1130 343h3V351h-3zM1134 332h1V344h-1zM1133 335h3V344h-3z"/><path fill="#ff4136" d="M1136 335h1V342h-1zM1135 335h3V340h-3zM1138 334h1V341h-1zM1137 336h3V339h-3zM1140 336h1V346h-1zM1139 337h3V345h-3zM1142 339h1V357h-1zM1141 341h3V355h-3zM1144 354h1V361h-1zM1143 354h3V361h-3zM1147 360h1V370h-1zM1146 360h3V369h-3zM1149 365h1V372h-1zM1148 369h3V372h-3z"/><path fill="#25c08e" d="M1151 359h1V374h-1zM1150 363h3V373h-3zM1153 356h1V365h-1zM1152 357h3V364h-3zM1155 346h1V359h-1zM1154 347h3V357h-3z"/><path fill="#ff4136" d="M1157 349h1V351h-1zM1156 349h3V351h-3zM1160 350h1V358h-1zM1159 351h3V357h-3z"/><path fill="#25c08e" d="M1162 352h1V359h-1zM1161 353h3V357h-3zM1164 347h1V354h-1zM1163 347h3V353h-3zM1166 343h1V349h-1zM1165 345h3V349h-3zM1168 338h1V349h-1zM1167 340h3V347h-3z"/><path fill="#ff4136" d="M1170 338h1V346h-1zM1169 340h3V344h-3zM1173 338h1V349h-1zM1172 341h3V346h-3z"/><path fill="#25c08e" d="M1175 341h1V347h-1zM1174 341h3V346h-3zM1177 333h1V343h-1zM1176 334h3V342h-3z"/><path fill="#ff4136" d="M1179 332h1V348h-1zM1178 334h3V343h-3zM1181 342h1V363h-1zM1180 342h3V361h-3zM1183 358h1V367h-1zM1182 360h3V364h-3z"/><path fill="#25c08e" d="M1186 355h1V361h-1zM1185 356h3V361h-3z"/><path fill="#ff4136" d="M1188 355h1V362h-1zM1187 357h3V361h-3zM1190 356h1V364h-1zM1189 357h3V363h-3z"/><path fill="#25c08e" d="M1192 344h1V360h-1zM1191 346h3V360h-3zM1194 343h1V351h-1zM1193 344h3V349h-3zM1197 340h1V349h-1zM1196 341h3V348h-3zM1199 335h1V346h-1zM1198 337h3V344h-3zM1201 334h1V341h-1zM1200 336h3V339h-3zM1203 330h1V341h-1zM1202 332h3V340h-3z"/><path fill="#ff4136" d="M1205 330h1V337h-1zM1204 331h3V335h-3zM1207 330h1V337h-1zM1206 334h3V337h-3z"/><path fill="#25c08e" d="M1210 330h1V339h-1zM1209 332h3V337h-3zM1212 329h1V337h-1zM1211 332h3V336h-3zM1214 329h1V334h-1zM1213 330h3V334h-3z"/><path fill="#ff4136" d="M1216 326h1V334h-1zM1215 330h3V334h-3z"/><path fill="#25c08e" d="M1218 327h1V335h-1zM1217 330h3V334h-3z"/><path fill="#ff4136" d="M1220 332h1V350h-1zM1219 332h3V346h-3zM1223 345h1V356h-1zM1222 345h3V351h-3zM1225 346h1V354h-1zM1224 346h3V349h-3zM1227 344h1V351h-1zM1226 346h3V349h-3zM1229 346h1V358h-1zM1228 347h3V356h-3zM1231 353h1V362h-1zM1230 354h3V360h-3z"/><path fill="#25c08e" d="M1233 346h1V362h-1zM1232 349h3V361h-3zM1236 348h1V352h-1zM1235 348h3V352h-3zM1238 340h1V352h-1zM1237 340h3V351h-3zM1240 335h1V342h-1zM1239 338h3V341h-3z"/><path fill="#ff4136" d="M1242 335h1V346h-1zM1241 337h3V342h-3zM1244 338h1V350h-1zM1243 342h3V346h-3zM1246 344h1V352h-1zM1245 344h3V348h-3z"/><path fill="#25c08e" d="M1249 343h1V349h-1zM1248 343h3V347h-3z"/><path fill="#ff4136" d="M1251 345h1V352h-1zM1250 345h3V351h-3zM1253 344h1V354h-1zM1252 348h3V353h-3zM1255 351h1V358h-1zM1254 351h3V357h-3zM1257 353h1V360h-1zM1256 355h3V359h-3z"/><path fill="#25c08e" d="M1259 353h1V359h-1zM1258 354h3V358h-3zM1262 347h1V357h-1zM1261 350h3V355h-3z"/><path fill="#ff4136" d="M1264 350h1V356h-1zM1263 351h3V353h-3z"/><path fill="#25c08e" d="M1266 346h1V355h-1zM1265 346h3V353h-3z"/><path fill="#ff4136" d="M1268 346h1V353h-1zM1267 346h3V351h-3z"/><path fill="#25c08e" d="M1270 341h1V350h-1zM1269 342h3V349h-3zM1272 333h1V342h-1zM1271 334h3V342h-3z"/><path fill="#ff4136" d="M1275 334h1V343h-1zM1274 335h3V342h-3zM1277 339h1V349h-1zM1276 340h3V347h-3zM1279 344h1V351h-1zM1278 346h3V350h-3zM1281 348h1V357h-1zM1280 350h3V356h-3z"/><path fill="#25c08e" d="M1283 351h1V356h-1zM1282 353h3V356h-3z"/><path fill="#ff4136" d="M1285 355h1V363h-1zM1284 355h3V363h-3zM1288 358h1V377h-1zM1287 360h3V376h-3zM1290 375h1V383h-1zM1289 376h3V379h-3zM1292 376h1V385h-1zM1291 376h3V382h-3zM1294 379h1V390h-1zM1293 382h3V388h-3z"/></g>
<path d="M103.5 274.5H1364.5" stroke="#7a8496" stroke-width="1" stroke-dasharray="5 5" fill="none"/>
<path d="M173.5 161.5V759.5" stroke="#5a6473" stroke-width="1" stroke-dasharray="5 5" fill="none"/>
<path d="M105 605h1V604.5h-1zM107 605h1V606.1h-1zM109 605h1V607.7h-1zM112 605h1V608.6h-1zM114 605h1V609.1h-1zM116 605h1V609.2h-1zM118 605h1V609.1h-1zM120 605h1V608.8h-1zM122 605h1V608.4h-1zM125 605h1V608h-1zM127 605h1V607.5h-1zM129 605h1V606.7h-1zM133 605h1V604h-1zM135 605h1V602.5h-1zM138 605h1V601.3h-1zM140 605h1V600.5h-1zM142 605h1V600.2h-1zM144 605h1V600.1h-1zM146 605h1V599.9h-1zM148 605h1V599.9h-1zM151 605h1V600.1h-1zM153 605h1V600.7h-1zM155 605h1V602.3h-1zM157 605h1V604.3h-1zM159 605h1V604.3h-1zM161 605h1V603.6h-1zM164 605h1V602.9h-1zM166 605h1V602.6h-1zM168 605h1V603.8h-1zM170 605h1V607.1h-1zM172 605h1V609.7h-1zM174 605h1V609.4h-1zM177 605h1V607.3h-1zM179 605h1V605.2h-1zM181 605h1V604h-1zM183 605h1V604.1h-1zM185 605h1V604.2h-1zM187 605h1V604.4h-1zM190 605h1V604.6h-1zM192 605h1V605.1h-1zM194 605h1V606.3h-1zM196 605h1V607.7h-1zM198 605h1V609.9h-1zM200 605h1V614.2h-1zM203 605h1V617.8h-1zM205 605h1V618.5h-1zM207 605h1V617.8h-1zM209 605h1V617h-1zM211 605h1V616h-1zM214 605h1V615h-1zM216 605h1V614.3h-1zM218 605h1V613.7h-1zM220 605h1V612.9h-1zM222 605h1V612h-1zM224 605h1V610.8h-1zM227 605h1V609.7h-1zM229 605h1V608.7h-1zM231 605h1V607.9h-1zM233 605h1V607.2h-1zM235 605h1V606h-1zM237 605h1V603.7h-1zM240 605h1V601.4h-1zM242 605h1V600.1h-1zM244 605h1V600.6h-1zM246 605h1V601.7h-1zM248 605h1V602.7h-1zM250 605h1V603.5h-1zM253 605h1V604.1h-1zM255 605h1V604.5h-1zM257 605h1V604.2h-1zM259 605h1V603.3h-1zM261 605h1V602.1h-1zM263 605h1V601.2h-1zM266 605h1V600.7h-1zM268 605h1V600.8h-1zM270 605h1V601.7h-1zM272 605h1V602.5h-1zM274 605h1V603.2h-1zM276 605h1V603.7h-1zM279 605h1V604.2h-1zM281 605h1V604.7h-1zM283 605h1V605.1h-1zM287 605h1V606.2h-1zM289 605h1V608.5h-1zM292 605h1V610.5h-1zM294 605h1V609.7h-1zM296 605h1V608.2h-1zM298 605h1V606.7h-1zM302 605h1V604.3h-1zM305 605h1V603.6h-1zM307 605h1V602.9h-1zM309 605h1V602.3h-1zM311 605h1V601.8h-1zM313 605h1V601.5h-1zM315 605h1V601.3h-1zM318 605h1V601.3h-1zM320 605h1V601.3h-1zM322 605h1V601.3h-1zM324 605h1V601.4h-1zM326 605h1V601.5h-1zM329 605h1V601.8h-1zM331 605h1V602.2h-1zM333 605h1V602.6h-1zM335 605h1V602.9h-1zM337 605h1V603.2h-1zM339 605h1V603.5h-1zM342 605h1V603.8h-1zM344 605h1V604.1h-1zM346 605h1V604.5h-1zM350 605h1V605.9h-1zM352 605h1V606.3h-1zM357 605h1V604.4h-1zM359 605h1V604.1h-1zM363 605h1V607.5h-1zM365 605h1V608.2h-1zM368 605h1V608.3h-1zM370 605h1V608.3h-1zM372 605h1V608.6h-1zM374 605h1V609.4h-1zM376 605h1V611.3h-1zM378 605h1V613.4h-1zM381 605h1V617.6h-1zM383 605h1V620.1h-1zM385 605h1V617.3h-1zM387 605h1V614.3h-1zM389 605h1V611.7h-1zM391 605h1V609.5h-1zM394 605h1V607.7h-1zM396 605h1V605.9h-1zM398 605h1V604.7h-1zM400 605h1V604.7h-1zM402 605h1V605.9h-1zM404 605h1V607.6h-1zM407 605h1V609h-1zM409 605h1V610.6h-1zM411 605h1V612.1h-1zM413 605h1V612.5h-1zM415 605h1V611.6h-1zM417 605h1V610.6h-1zM420 605h1V609.9h-1zM422 605h1V610h-1zM424 605h1V611.3h-1zM426 605h1V613.1h-1zM428 605h1V614.3h-1zM430 605h1V614.3h-1zM433 605h1V612.7h-1zM435 605h1V609.7h-1zM437 605h1V606.4h-1zM439 605h1V603.7h-1zM441 605h1V602h-1zM444 605h1V600.5h-1zM446 605h1V599.3h-1zM448 605h1V598.6h-1zM450 605h1V598.3h-1zM452 605h1V598.7h-1zM454 605h1V599.3h-1zM457 605h1V600h-1zM459 605h1V600.5h-1zM461 605h1V600.9h-1zM463 605h1V601h-1zM465 605h1V600.5h-1zM467 605h1V599.6h-1zM470 605h1V598.9h-1zM472 605h1V598.7h-1zM474 605h1V599.1h-1zM476 605h1V600h-1zM478 605h1V600.9h-1zM480 605h1V601.6h-1zM483 605h1V602h-1zM485 605h1V601.7h-1zM487 605h1V600.9h-1zM489 605h1V600.1h-1zM491 605h1V599.5h-1zM493 605h1V599.1h-1zM496 605h1V598.7h-1zM498 605h1V598.4h-1zM500 605h1V598.3h-1zM502 605h1V598.4h-1zM504 605h1V598.5h-1zM506 605h1V598.6h-1zM509 605h1V598.9h-1zM511 605h1V599.3h-1zM513 605h1V599.6h-1zM515 605h1V600h-1zM517 605h1V600.6h-1zM519 605h1V601.4h-1zM522 605h1V602h-1zM524 605h1V602.6h-1zM526 605h1V603.1h-1zM528 605h1V603.5h-1zM530 605h1V603.9h-1zM532 605h1V604.5h-1zM537 605h1V607.4h-1zM539 605h1V609.1h-1zM541 605h1V610.7h-1zM543 605h1V613.8h-1zM546 605h1V615.8h-1zM548 605h1V614.6h-1zM550 605h1V613.1h-1zM552 605h1V612.1h-1zM554 605h1V612h-1zM556 605h1V612.5h-1zM559 605h1V613.4h-1zM561 605h1V614.3h-1zM563 605h1V615.2h-1zM565 605h1V616.9h-1zM567 605h1V618.2h-1zM569 605h1V617.9h-1zM572 605h1V615.9h-1zM574 605h1V613.9h-1zM576 605h1V612.4h-1zM578 605h1V612.2h-1zM580 605h1V616.8h-1zM582 605h1V622.2h-1zM585 605h1V624.6h-1zM587 605h1V625.1h-1zM589 605h1V624.7h-1zM591 605h1V621.8h-1zM593 605h1V616.4h-1zM595 605h1V610.7h-1zM598 605h1V606.4h-1zM600 605h1V604.4h-1zM602 605h1V603.3h-1zM604 605h1V602.5h-1zM606 605h1V601.6h-1zM608 605h1V600.4h-1zM611 605h1V600.2h-1zM613 605h1V601h-1zM615 605h1V601.8h-1zM617 605h1V602h-1zM619 605h1V599h-1zM621 605h1V595.2h-1zM624 605h1V593.1h-1zM626 605h1V591.4h-1zM628 605h1V591.1h-1zM630 605h1V591.9h-1zM632 605h1V592.9h-1zM634 605h1V593.9h-1zM637 605h1V594.7h-1zM639 605h1V595.6h-1zM641 605h1V596.3h-1zM643 605h1V596.5h-1zM645 605h1V595.7h-1zM648 605h1V594.3h-1zM650 605h1V593.6h-1zM652 605h1V593.5h-1zM654 605h1V593.5h-1zM656 605h1V593.9h-1zM658 605h1V595.3h-1zM661 605h1V597.6h-1zM663 605h1V599.9h-1zM665 605h1V601.6h-1zM667 605h1V602.3h-1zM669 605h1V602.1h-1zM671 605h1V601.8h-1zM674 605h1V601.6h-1zM676 605h1V602.1h-1zM678 605h1V602.7h-1zM680 605h1V603.3h-1zM682 605h1V603.2h-1zM684 605h1V601.7h-1zM687 605h1V602.4h-1zM689 605h1V604.5h-1zM691 605h1V606.3h-1zM693 605h1V606.3h-1zM695 605h1V603.5h-1zM697 605h1V603.1h-1zM700 605h1V605.2h-1zM702 605h1V607.5h-1zM704 605h1V608.9h-1zM706 605h1V609.3h-1zM708 605h1V609.5h-1zM710 605h1V609.8h-1zM713 605h1V610.3h-1zM715 605h1V610.8h-1zM717 605h1V609.6h-1zM719 605h1V602.4h-1zM721 605h1V592.3h-1zM723 605h1V582.8h-1zM726 605h1V576.5h-1zM728 605h1V572.3h-1zM730 605h1V569.2h-1zM732 605h1V577.4h-1zM734 605h1V588.9h-1zM736 605h1V599.1h-1zM739 605h1V610.3h-1zM741 605h1V624.7h-1zM743 605h1V628.5h-1zM745 605h1V628.7h-1zM747 605h1V625.9h-1zM749 605h1V619.7h-1zM752 605h1V613.6h-1zM754 605h1V608.3h-1zM756 605h1V606.2h-1zM758 605h1V608.1h-1zM760 605h1V610.8h-1zM763 605h1V614.2h-1zM765 605h1V618h-1zM767 605h1V622.8h-1zM769 605h1V625.4h-1zM771 605h1V625.6h-1zM773 605h1V625.7h-1zM776 605h1V626.9h-1zM778 605h1V628h-1zM780 605h1V627.7h-1zM782 605h1V625.2h-1zM784 605h1V617.4h-1zM786 605h1V610.1h-1zM789 605h1V604.2h-1zM791 605h1V603.6h-1zM793 605h1V603.8h-1zM795 605h1V604.1h-1zM797 605h1V606.1h-1zM799 605h1V608.6h-1zM802 605h1V608.5h-1zM804 605h1V607.5h-1zM806 605h1V605.9h-1zM808 605h1V602.6h-1zM810 605h1V602.1h-1zM812 605h1V602.5h-1zM815 605h1V602.6h-1zM817 605h1V598.6h-1zM819 605h1V594.2h-1zM821 605h1V599.1h-1zM823 605h1V606.3h-1zM828 605h1V601.9h-1zM830 605h1V598.9h-1zM832 605h1V596.1h-1zM834 605h1V597h-1zM836 605h1V601.2h-1zM838 605h1V602.2h-1zM841 605h1V602.2h-1zM843 605h1V601.7h-1zM845 605h1V601.1h-1zM847 605h1V600.4h-1zM849 605h1V598.5h-1zM851 605h1V596.2h-1zM854 605h1V595.8h-1zM856 605h1V598.2h-1zM858 605h1V600.2h-1zM860 605h1V599.8h-1zM862 605h1V597.6h-1zM864 605h1V595.9h-1zM867 605h1V595.9h-1zM869 605h1V596.2h-1zM871 605h1V597.5h-1zM873 605h1V600.3h-1zM875 605h1V603.9h-1zM878 605h1V609h-1zM880 605h1V614.2h-1zM882 605h1V618.9h-1zM884 605h1V623.3h-1zM886 605h1V627.3h-1zM888 605h1V630.7h-1zM891 605h1V631.2h-1zM893 605h1V630.4h-1zM895 605h1V625.9h-1zM897 605h1V619.5h-1zM899 605h1V615.8h-1zM901 605h1V614.1h-1zM904 605h1V613.3h-1zM906 605h1V613h-1zM908 605h1V615.5h-1zM910 605h1V620.8h-1zM912 605h1V619.6h-1zM914 605h1V617.2h-1zM917 605h1V616.5h-1zM919 605h1V620h-1zM921 605h1V620.9h-1zM923 605h1V620.1h-1zM925 605h1V618.5h-1zM927 605h1V614.6h-1zM930 605h1V609.4h-1zM932 605h1V607.8h-1zM934 605h1V608.8h-1zM936 605h1V608.9h-1zM938 605h1V608h-1zM940 605h1V607h-1zM945 605h1V601.4h-1zM947 605h1V600.4h-1zM949 605h1V602.5h-1zM951 605h1V605h-1zM953 605h1V607.1h-1zM956 605h1V610h-1zM958 605h1V611.7h-1zM960 605h1V610.4h-1zM962 605h1V606.8h-1zM964 605h1V603.5h-1zM966 605h1V602.3h-1zM969 605h1V603.8h-1zM973 605h1V606.4h-1zM975 605h1V605h-1zM977 605h1V602.5h-1zM980 605h1V599.8h-1zM982 605h1V597.4h-1zM984 605h1V594.2h-1zM986 605h1V592h-1zM988 605h1V591.6h-1zM990 605h1V591.7h-1zM993 605h1V593.1h-1zM995 605h1V596.6h-1zM997 605h1V601.5h-1zM1001 605h1V608.5h-1zM1003 605h1V611.2h-1zM1006 605h1V612.8h-1zM1008 605h1V612.9h-1zM1010 605h1V610.7h-1zM1012 605h1V607.1h-1zM1014 605h1V604.1h-1zM1016 605h1V603.4h-1zM1019 605h1V604h-1zM1021 605h1V604.5h-1zM1023 605h1V605h-1zM1027 605h1V606.7h-1zM1029 605h1V608.5h-1zM1032 605h1V611.3h-1zM1034 605h1V614.3h-1zM1036 605h1V612.9h-1zM1038 605h1V610.8h-1zM1040 605h1V608.5h-1zM1042 605h1V606.3h-1zM1045 605h1V603.9h-1zM1047 605h1V599h-1zM1049 605h1V593.8h-1zM1051 605h1V587.9h-1zM1053 605h1V584.9h-1zM1055 605h1V585.6h-1zM1058 605h1V587.8h-1zM1060 605h1V591.1h-1zM1062 605h1V593.9h-1zM1064 605h1V596.2h-1zM1066 605h1V601.2h-1zM1071 605h1V606.8h-1zM1073 605h1V607.4h-1zM1075 605h1V607.5h-1zM1077 605h1V607.1h-1zM1082 605h1V603h-1zM1084 605h1V601.5h-1zM1086 605h1V601.2h-1zM1088 605h1V601.2h-1zM1090 605h1V600.9h-1zM1092 605h1V599.7h-1zM1095 605h1V598h-1zM1097 605h1V597.6h-1zM1099 605h1V599.7h-1zM1101 605h1V603.4h-1zM1103 605h1V606.1h-1zM1105 605h1V607.6h-1zM1108 605h1V608.8h-1zM1110 605h1V610.4h-1zM1112 605h1V612.8h-1zM1114 605h1V615.2h-1zM1116 605h1V616.8h-1zM1118 605h1V618.1h-1zM1121 605h1V619h-1zM1123 605h1V619.9h-1zM1125 605h1V620.8h-1zM1127 605h1V619.9h-1zM1129 605h1V617.1h-1zM1131 605h1V614.8h-1zM1134 605h1V612h-1zM1136 605h1V608h-1zM1140 605h1V607.5h-1zM1142 605h1V611.1h-1zM1144 605h1V613.4h-1zM1147 605h1V615.1h-1zM1149 605h1V613.9h-1zM1151 605h1V611.3h-1zM1153 605h1V608.6h-1zM1155 605h1V606.1h-1zM1157 605h1V603.2h-1zM1160 605h1V600.7h-1zM1162 605h1V598.7h-1zM1164 605h1V597h-1zM1166 605h1V595.7h-1zM1168 605h1V594.6h-1zM1170 605h1V593.9h-1zM1173 605h1V593.7h-1zM1175 605h1V593.5h-1zM1177 605h1V594.3h-1zM1179 605h1V598h-1zM1181 605h1V603.4h-1zM1186 605h1V606.7h-1zM1188 605h1V607.1h-1zM1190 605h1V606.8h-1zM1192 605h1V605.1h-1zM1194 605h1V602.9h-1zM1197 605h1V601.1h-1zM1199 605h1V599h-1zM1201 605h1V597.2h-1zM1203 605h1V596.2h-1zM1205 605h1V595.7h-1zM1207 605h1V595.6h-1zM1210 605h1V596.5h-1zM1212 605h1V598h-1zM1214 605h1V599.2h-1zM1216 605h1V600.5h-1zM1218 605h1V602.8h-1zM1223 605h1V607.7h-1zM1225 605h1V609.6h-1zM1227 605h1V611.5h-1zM1229 605h1V614.3h-1zM1231 605h1V614.5h-1zM1233 605h1V611.8h-1zM1236 605h1V608.8h-1zM1238 605h1V606.7h-1zM1240 605h1V605h-1zM1242 605h1V603.8h-1zM1244 605h1V603.4h-1zM1246 605h1V604h-1zM1249 605h1V605.1h-1zM1251 605h1V606.4h-1zM1253 605h1V607.4h-1zM1255 605h1V608.6h-1zM1257 605h1V609.5h-1zM1259 605h1V609.1h-1zM1262 605h1V608.1h-1zM1264 605h1V607h-1zM1268 605h1V603.5h-1zM1270 605h1V601.4h-1zM1272 605h1V600.9h-1zM1275 605h1V602.1h-1zM1277 605h1V603.8h-1zM1281 605h1V606.9h-1zM1283 605h1V608.9h-1zM1285 605h1V612.1h-1zM1288 605h1V615.9h-1zM1290 605h1V618.4h-1zM1292 605h1V620.1h-1zM1294 605h1V621.5h-1z" fill="#f5423f" opacity="0.9" shape-rendering="crispEdges"/><polyline points="105,581.5 107.2,581.7 109.3,582.2 111.5,583 113.7,583.9 115.8,584.8 118,585.7 120.2,586.5 122.4,587.2 124.5,587.9 126.7,588.4 128.9,588.7 131,588.7 133.2,588.3 135.4,587.5 137.6,586.5 139.7,585.3 141.9,583.9 144.1,582.6 146.2,581.2 148.4,579.7 150.6,578.4 152.7,577.2 154.9,576.4 157.1,576.1 159.2,575.8 161.4,575.3 163.6,574.7 165.8,574 167.9,573.5 170.1,573.9 172.3,575 174.4,575.9 176.6,576.4 178.8,576.3 180.9,575.9 183.1,575.6 185.3,575.3 187.5,575 189.6,574.7 191.8,574.6 194,574.8 196.1,575.4 198.3,576.5 200.5,578.6 202.6,581.7 204.8,584.9 207,588 209.2,590.9 211.3,593.5 213.5,595.9 215.7,598.1 217.8,600.1 220,602 222.2,603.6 224.3,605 226.5,606 228.7,606.8 230.9,607.4 233,607.9 235.2,608 237.4,607.5 239.5,606.5 241.7,605.2 243.9,603.9 246,603 248.2,602.3 250.4,601.8 252.6,601.4 254.7,601.2 256.9,600.9 259.1,600.3 261.2,599.5 263.4,598.4 265.6,597.2 267.8,596 269.9,595 272.1,594.3 274.3,593.7 276.4,593.3 278.6,592.9 280.8,592.7 282.9,592.6 285.1,592.7 287.3,592.8 289.4,593.6 291.6,594.8 293.8,595.9 296,596.5 298.1,596.8 300.3,596.8 302.5,596.5 304.6,596 306.8,595.4 309,594.6 311.1,593.7 313.3,592.7 315.5,591.6 317.7,590.6 319.8,589.5 322,588.5 324.2,587.4 326.3,586.5 328.5,585.5 330.7,584.7 332.9,584 335,583.3 337.2,582.7 339.4,582.2 341.5,581.8 343.7,581.5 345.9,581.2 348,581.1 350.2,581.2 352.4,581.4 354.5,581.5 356.7,581.2 358.9,580.8 361.1,580.9 363.2,581.4 365.4,582.1 367.6,582.8 369.7,583.5 371.9,584.3 374.1,585.2 376.2,586.7 378.4,588.6 380.6,591.7 382.8,595.3 384.9,598.3 387.1,600.5 389.3,602 391.4,603 393.6,603.6 395.8,603.7 397.9,603.5 400.1,603.3 402.3,603.4 404.5,603.9 406.6,604.8 408.8,606 411,607.7 413.1,609.4 415.3,610.9 417.5,612.2 419.6,613.3 421.8,614.5 424,615.9 426.2,617.8 428.3,620 430.5,622.2 432.7,624 434.8,625 437,625.3 439.2,624.8 441.3,623.9 443.5,622.7 445.7,621.1 447.9,619.4 450,617.6 452.2,615.9 454.4,614.4 456.5,613 458.7,611.7 460.9,610.6 463.1,609.5 465.2,608.2 467.4,606.7 469.6,605.1 471.7,603.4 473.9,601.8 476.1,600.4 478.2,599.3 480.4,598.3 482.6,597.4 484.8,596.5 486.9,595.3 489.1,594 491.3,592.5 493.4,590.9 495.6,589.2 497.8,587.4 499.9,585.6 502.1,583.8 504.3,582 506.4,580.3 508.6,578.7 510.8,577.1 513,575.6 515.1,574.3 517.3,573 519.5,572 521.6,571.1 523.8,570.4 526,569.8 528.1,569.3 530.3,568.9 532.5,568.7 534.7,568.7 536.8,569.2 539,570.1 541.2,571.4 543.3,573.5 545.5,576.1 547.7,578.3 549.8,580.3 552,581.9 554.2,583.5 556.4,585.3 558.5,587.2 560.7,589.4 562.9,591.9 565,594.7 567.2,597.9 569.4,601 571.5,603.6 573.7,605.7 575.9,607.4 578.1,609.1 580.2,611.9 582.4,616.1 584.6,620.8 586.7,625.8 588.9,630.5 591.1,634.6 593.2,637.3 595.4,638.6 597.6,638.9 599.8,638.6 601.9,638 604.1,637.3 606.3,636.3 608.4,635 610.6,633.7 612.8,632.6 615,631.6 617.1,630.8 619.3,629.2 621.5,626.6 623.6,623.5 625.8,620 628,616.4 630.1,613 632.3,609.8 634.5,606.9 636.6,604.2 638.8,601.8 641,599.5 643.2,597.2 645.3,594.7 647.5,592 649.7,589 651.8,586 654,583 656.2,580.1 658.4,577.5 660.5,575.6 662.7,574.1 664.9,573.2 667,572.3 669.2,571.5 671.4,570.6 673.5,569.6 675.7,568.7 677.9,568.1 680,567.5 682.2,566.9 684.4,566 686.6,565.2 688.7,564.9 690.9,565.1 693.1,565.3 695.2,564.9 697.4,564.3 699.6,564.2 701.8,564.7 703.9,565.5 706.1,566.5 708.3,567.5 710.4,568.6 712.6,569.8 714.8,571.1 716.9,572.2 719.1,571.4 721.3,568.1 723.4,562.4 725.6,555.1 727.8,546.8 730,537.8 732.1,530.7 734.3,526.6 736.5,525 738.6,526.2 740.8,531 743,536.7 745.1,542.5 747.3,547.6 749.5,551.2 751.7,553.2 753.8,553.9 756,554.1 758.2,554.7 760.3,556 762.5,558.2 764.7,561.4 766.9,565.7 769,570.6 771.2,575.7 773.4,580.7 775.5,586.1 777.7,591.7 779.9,597.3 782,602.2 784.2,605.2 786.4,606.3 788.5,606 790.7,605.5 792.9,605.1 795.1,604.7 797.2,604.9 799.4,605.7 801.6,606.4 803.7,606.9 805.9,607 808.1,606.3 810.2,605.4 812.4,604.7 814.6,603.9 816.8,602.2 818.9,599.4 821.1,597.8 823.3,598 825.4,598.1 827.6,597.2 829.8,595.5 831.9,593.2 834.1,591 836.3,589.9 838.5,589.1 840.6,588.3 842.8,587.3 845,586.2 847.1,585 849.3,583.2 851.5,580.9 853.6,578.4 855.8,576.6 858,575.3 860.2,573.9 862.3,571.9 864.5,569.5 866.7,567.1 868.8,564.8 871,562.8 873.2,561.5 875.4,561.1 877.5,561.9 879.7,564.1 881.9,567.5 884,571.9 886.2,577.4 888.4,583.7 890.5,590.1 892.7,596.3 894.9,601.4 897,604.9 899.2,607.5 901.4,609.6 903.6,611.6 905.7,613.4 907.9,615.9 910.1,619.8 912.2,623.3 914.4,626.2 916.6,629 918.8,632.6 920.9,636.4 923.1,640.1 925.3,643.3 927.4,645.6 929.6,646.6 931.8,647.2 933.9,648 936.1,648.9 938.3,649.5 940.4,649.9 942.6,649.9 944.8,648.8 947,647.6 949.1,646.8 951.3,646.7 953.5,647.1 955.6,648.2 957.8,649.7 960,651 962.1,651.3 964.3,650.8 966.5,650 968.7,649.6 970.8,649.6 973,649.8 975.2,649.7 977.3,649 979.5,647.6 981.7,645.5 983.9,642.7 986,639.3 988.2,635.8 990.4,632.4 992.5,629.3 994.7,627.1 996.9,626.1 999,626.1 1001.2,626.8 1003.4,628.2 1005.5,630.1 1007.7,631.9 1009.9,633.2 1012.1,633.6 1014.2,633.3 1016.4,632.8 1018.6,632.4 1020.7,632.1 1022.9,632 1025.1,632 1027.2,632.3 1029.4,633.1 1031.6,634.5 1033.8,636.7 1035.9,638.6 1038.1,639.9 1040.3,640.7 1042.4,640.9 1044.6,640.5 1046.8,638.8 1048.9,635.9 1051.1,631.5 1053.3,626.4 1055.5,621.4 1057.6,617 1059.8,613.4 1062,610.5 1064.1,608.1 1066.3,607.1 1068.5,607.1 1070.7,607.5 1072.8,607.9 1075,608.5 1077.2,608.8 1079.3,608.8 1081.5,608.2 1083.7,607.2 1085.8,606.1 1088,605 1090.2,603.9 1092.3,602.4 1094.5,600.5 1096.7,598.6 1098.9,597.1 1101,596.6 1103.2,596.8 1105.4,597.3 1107.5,598.1 1109.7,599.3 1111.9,601.2 1114,603.6 1116.2,606.4 1118.4,609.5 1120.6,612.9 1122.7,616.5 1124.9,620.3 1127.1,623.9 1129.2,626.8 1131.4,629.1 1133.6,630.8 1135.8,631.4 1137.9,631.5 1140.1,631.9 1142.3,633.3 1144.4,635.3 1146.6,637.7 1148.8,639.8 1150.9,641.3 1153.1,642 1155.3,642.2 1157.5,641.6 1159.6,640.4 1161.8,638.7 1164,636.6 1166.1,634.1 1168.3,631.4 1170.5,628.5 1172.6,625.5 1174.8,622.5 1177,619.7 1179.1,617.8 1181.3,617.3 1183.5,617.4 1185.7,617.7 1187.8,618.1 1190,618.4 1192.2,618.3 1194.3,617.7 1196.5,616.6 1198.7,615 1200.8,612.9 1203,610.6 1205.2,608.1 1207.4,605.6 1209.5,603.4 1211.7,601.5 1213.9,599.9 1216,598.7 1218.2,598 1220.4,598 1222.5,598.6 1224.7,599.6 1226.9,601.1 1229.1,603.3 1231.2,605.6 1233.4,607.1 1235.6,608 1237.7,608.3 1239.9,608.1 1242.1,607.7 1244.2,607.2 1246.4,606.8 1248.6,606.7 1250.8,606.9 1252.9,607.4 1255.1,608.1 1257.3,609.1 1259.4,610.1 1261.6,610.7 1263.8,611.1 1266,611.1 1268.1,610.6 1270.3,609.6 1272.5,608.4 1274.6,607.6 1276.8,607.2 1279,607.1 1281.1,607.5 1283.3,608.3 1285.5,610 1287.6,612.6 1289.8,615.8 1292,619.5 1294.2,623.4" fill="none" stroke="#ff3b3b" stroke-width="1" stroke-linejoin="round"/><polyline points="105,580.5 107.2,582.3 109.3,584.3 111.5,586 113.7,587.4 115.8,588.5 118,589.3 120.2,589.8 122.4,590.2 124.5,590.3 126.7,590.4 128.9,589.9 131,588.6 133.2,586.8 135.4,584.6 137.6,582.3 139.7,580.3 141.9,578.6 144.1,577.1 146.2,575.6 148.4,574.1 150.6,573 152.7,572.4 154.9,573.2 157.1,574.9 159.2,574.6 161.4,573.4 163.6,572 165.8,571.1 167.9,571.9 170.1,575.5 172.3,579.1 174.4,579.8 176.6,578.2 178.8,576 180.9,574.4 183.1,574.1 185.3,574 187.5,573.8 189.6,573.8 191.8,574.2 194,575.6 196.1,577.6 198.3,580.8 200.5,587.3 202.6,594 204.8,597.9 207,600.4 209.2,602.4 211.3,604 213.5,605.4 215.7,606.9 217.8,608.3 220,609.4 222.2,610.1 224.3,610.3 226.5,610.2 228.7,610.1 230.9,609.9 233,609.6 235.2,608.5 237.4,605.7 239.5,602.4 241.7,599.8 243.9,599 246,599.2 248.2,599.5 250.4,599.8 252.6,600.1 254.7,600.2 256.9,599.6 259.1,598.1 261.2,596.1 263.4,594 265.6,592.3 267.8,591.3 269.9,591.2 272.1,591.3 274.3,591.4 276.4,591.5 278.6,591.7 280.8,591.9 282.9,592.2 285.1,592.8 287.3,593.6 289.4,596.5 291.6,599.8 293.8,600.1 296,599.3 298.1,598 300.3,596.7 302.5,595.4 304.6,594.1 306.8,592.8 309,591.4 311.1,590 313.3,588.7 315.5,587.5 317.7,586.4 319.8,585.3 322,584.3 324.2,583.3 326.3,582.5 328.5,581.8 330.7,581.4 332.9,581 335,580.7 337.2,580.5 339.4,580.2 341.5,580.1 343.7,580 345.9,580.2 348,580.8 350.2,581.6 352.4,582.2 354.5,581.7 356.7,580.1 358.9,579.4 361.1,581 363.2,583.4 365.4,584.8 367.6,585.6 369.7,586.3 371.9,587.3 374.1,589.1 376.2,592.4 378.4,596.6 380.6,603.8 382.8,609.9 384.9,610.1 387.1,609.3 389.3,608.2 391.4,607 393.6,605.8 395.8,604.1 397.9,602.7 400.1,602.5 402.3,603.8 404.5,606 406.6,608.2 408.8,611.1 411,614.3 413.1,616.4 415.3,617 417.5,617.4 419.6,617.8 421.8,619 424,621.8 426.2,625.4 428.3,628.8 430.5,631 432.7,631.2 434.8,629.2 437,626.1 439.2,623 441.3,620.4 443.5,617.7 445.7,615 447.9,612.5 450,610.4 452.2,609.1 454.4,608.2 456.5,607.4 458.7,606.8 460.9,606 463.1,604.9 465.2,603.2 467.4,600.9 469.6,598.5 471.7,596.5 473.9,595.4 476.1,595 478.2,594.7 480.4,594.4 482.6,593.9 484.8,592.7 486.9,590.7 489.1,588.5 491.3,586.5 493.4,584.4 495.6,582.3 497.8,580.3 499.9,578.4 502.1,576.7 504.3,575 506.4,573.5 508.6,572.1 510.8,570.9 513,569.8 515.1,568.8 517.3,568.1 519.5,567.9 521.6,567.7 523.8,567.5 526,567.4 528.1,567.3 530.3,567.3 532.5,567.7 534.7,569 536.8,571.1 539,573.7 541.2,576.6 543.3,581.8 545.5,586.4 547.7,587.5 549.8,587.9 552,588.5 554.2,590 556.4,592.3 558.5,595.2 560.7,598.2 562.9,601.5 565,606.1 567.2,610.6 569.4,613.4 571.5,613.9 573.7,614.1 575.9,614.3 578.1,615.8 580.2,623.2 582.4,632.8 584.6,639.9 586.7,645.4 588.9,649.7 591.1,650.9 593.2,648.3 595.4,643.8 597.6,639.8 599.8,637.5 601.9,635.8 604.1,634.3 606.3,632.4 608.4,630 610.6,628.4 612.8,628.1 615,627.9 617.1,627.3 619.3,622.6 621.5,616.3 623.6,611.1 625.8,605.9 628,602 630.1,599.4 632.3,597.2 634.5,595.3 636.6,593.4 638.8,591.8 641,590.3 643.2,588.2 645.3,584.9 647.5,580.8 649.7,577.1 651.8,574 654,571 656.2,568.5 658.4,567.3 660.5,567.6 662.7,568.5 664.9,569.2 667,569.1 669.2,568.1 671.4,566.8 673.5,565.7 675.7,565.3 677.9,565.3 680,565.3 682.2,564.6 684.4,562.2 686.6,562.1 688.7,563.9 690.9,565.9 693.1,566.2 695.2,562.9 697.4,561.9 699.6,563.9 701.8,566.7 703.9,568.9 706.1,570.3 708.3,571.5 710.4,572.8 712.6,574.6 714.8,576.5 716.9,576.3 719.1,568.2 721.3,554.9 723.4,539.7 725.6,526.1 727.8,513.7 730,501.5 732.1,502.6 734.3,510 736.5,518.5 738.6,531 740.8,550.2 743,559.7 745.1,565.8 747.3,568 749.5,565.3 751.7,561.3 753.8,556.7 756,554.8 758.2,557.3 760.3,561.3 762.5,566.9 764.7,573.9 766.9,583 769,590.5 771.2,595.8 773.4,601 775.5,607.5 777.7,614.3 779.9,619.5 782,621.9 784.2,617.1 786.4,610.9 788.5,604.7 790.7,603.6 792.9,603.4 795.1,603.3 797.2,605.5 799.4,608.8 801.6,609.4 803.7,609 805.9,607.4 808.1,603.3 810.2,602 812.4,601.6 814.6,601 816.8,595.3 818.9,588.1 821.1,591.4 823.3,598.8 825.4,598.3 827.6,593.5 829.8,588.9 831.9,583.8 834.1,582.5 836.3,585.6 838.5,585.8 840.6,585 842.8,583.6 845,581.8 847.1,579.9 849.3,576.2 851.5,571.5 853.6,568.8 855.8,569.3 858,570 860.2,568.1 862.3,564 864.5,559.9 866.7,557.5 868.8,555.5 871,554.7 873.2,556.3 875.4,559.5 877.5,565.4 879.7,572.8 881.9,580.9 884,589.7 886.2,599.1 888.4,608.8 890.5,615.8 892.7,621.3 894.9,621.8 897,618.9 899.2,617.7 901.4,618.2 903.6,619.3 905.7,620.9 907.9,626 910.1,635.1 912.2,637.4 914.4,637.9 916.6,640 918.8,647.1 920.9,651.9 923.1,654.7 925.3,656.3 927.4,654.7 929.6,650.5 931.8,649.4 933.9,651.3 936.1,652.3 938.3,652 940.4,651.4 942.6,649.9 944.8,644.7 947,642.4 949.1,643.8 951.3,646.1 953.5,648.7 955.6,652.7 957.8,655.9 960,655.8 962.1,652.6 964.3,648.8 966.5,646.8 968.7,647.8 970.8,649.8 973,650.8 975.2,649.3 977.3,646 979.5,641.9 981.7,637.4 983.9,631.4 986,625.8 988.2,622 990.4,618.6 992.5,616.8 994.7,618.2 996.9,622.1 999,626.1 1001.2,629.8 1003.4,633.9 1005.5,637.4 1007.7,639.3 1009.9,638.4 1012.1,635.2 1014.2,631.9 1016.4,630.7 1018.6,630.8 1020.7,631.1 1022.9,631.6 1025.1,632.1 1027.2,633.5 1029.4,636.1 1031.6,640.4 1033.8,645.6 1035.9,646 1038.1,645.2 1040.3,643.7 1042.4,641.6 1044.6,638.8 1046.8,632.3 1048.9,624.3 1051.1,613.9 1053.3,605.8 1055.5,601.5 1057.6,599.2 1059.8,599 1062,598.8 1064.1,598.8 1066.3,602.8 1068.5,607.4 1070.7,608.8 1072.8,609.9 1075,610.5 1077.2,610.4 1079.3,608.6 1081.5,605.7 1083.7,603.2 1085.8,601.8 1088,600.7 1090.2,599.3 1092.3,596.6 1094.5,593.1 1096.7,590.7 1098.9,591.4 1101,594.5 1103.2,597.3 1105.4,599.3 1107.5,601.4 1109.7,604.3 1111.9,608.5 1114,613.2 1116.2,617.7 1118.4,622.1 1120.6,626.4 1122.7,630.9 1124.9,635.7 1127.1,638.3 1129.2,638.4 1131.4,638.4 1133.6,637.3 1135.8,633.9 1137.9,631.6 1140.1,633.9 1142.3,639 1144.4,643.2 1146.6,647.3 1148.8,648.2 1150.9,647 1153.1,645.1 1155.3,642.8 1157.5,639.3 1159.6,635.6 1161.8,631.9 1164,628.1 1166.1,624.3 1168.3,620.5 1170.5,616.8 1172.6,613.7 1174.8,610.5 1177,608.5 1179.1,610.3 1181.3,615.3 1183.5,617.6 1185.7,618.9 1187.8,619.7 1190,619.7 1192.2,617.9 1194.3,615.1 1196.5,612.2 1198.7,608.5 1200.8,604.6 1203,601.3 1205.2,598.3 1207.4,595.7 1209.5,594.4 1211.7,594 1213.9,593.7 1216,593.7 1218.2,595.3 1220.4,598.1 1222.5,600.8 1224.7,603.7 1226.9,607.1 1229.1,612.1 1231.2,614.6 1233.4,613.4 1235.6,611.2 1237.7,609.5 1239.9,607.7 1242.1,606 1244.2,605.1 1246.4,605.3 1248.6,606.3 1250.8,607.8 1252.9,609.2 1255.1,611.2 1257.3,613.2 1259.4,613.7 1261.6,613.3 1263.8,612.5 1266,611.3 1268.1,608.6 1270.3,605.5 1272.5,603.8 1274.6,604.2 1276.8,605.4 1279,606.9 1281.1,608.9 1283.3,611.7 1285.5,616.6 1287.6,623 1289.8,628.6 1292,634.1 1294.2,639.4" fill="none" stroke="#3f3ff5" stroke-width="1" stroke-linejoin="round"/>
<polyline points="105.6,702.4 109.8,697.9 115.5,707.2 118.3,703.8 126.7,710 132.3,688.9 142,681.9 153.4,673.4 157.6,700 163.2,687.5 166.6,687 172.5,714.2 179.5,690.9 183,701.5 188.5,697.3 197,703 198.4,726.8 201.8,721.2 204.6,733.9 208.2,721.2 213.3,716.4 216.7,724 219.5,718.4 222.3,726 229.3,722.6 232,724 237.7,708.6 242,708.6 247.6,719.8 253.2,715.6 260.2,702.4 262.5,711.4 266.4,700 268.7,706.6 274.3,708.6 278.5,704.4 281.3,717 285.5,704.4 291.7,727.4 296,710 302.4,707.7 305.2,705.8 312.2,698.7 317.9,698.2 324.9,693 329.7,686 333.3,701 338.9,690.9 346.8,687.5 348.8,699.3 354.4,694.5 359.5,684.7 363.4,716.4 367.6,705.8 372.7,703 376.9,722.6 380.5,742.3 382.5,742.3 385.3,721.2 391,716.2 395,717 399.4,709.4 405,731 407.8,729 412,737.5 416.2,724.6 424.7,733.9 431,748.8 435.9,721.2 444.3,715.6 448.6,718.4 450.8,712.8 455.6,718.4 458.4,715 461.2,722.6 465.4,708.6 471,701 476.7,714.2 486.5,694.5 489.3,701 495.6,695.4 499.3,685.2 501.8,700 507.4,689.7 512.5,688.9 516.7,683.8 518.7,690.9 522.3,685.5 525,693 528,688.9 531.3,689.7 533.6,704.4 540,698.7 544.8,723.5 552.4,702 555.2,717 560.3,722.6 565.9,732.5 567.3,729 569.5,736 573.5,723.5 577,724.6 579.4,750 581.4,743.7 586.4,750.2 589.8,743.7 593.2,730.2 596.3,724.6 599,728.2 601.9,725.4 605.2,729 609.5,724 613,731.6 617,719.8 623.5,708.6 627.7,707.7 630.5,711.4 634.8,706.6 639,698.7 641.8,704.4 646,692.5 648.8,697.3 652.5,691.7 656.4,689.7 660,697.3 664.3,700.7 669,692.3 672.7,691.7 676.9,688 679.7,690.9 683.4,680.5 686.8,694.5 691.8,694.5 694.6,683.3 696.6,682.7 700.3,706.6 706.4,700 710,704.4 713.5,700.7 715.7,707.2 719,676.8 721,673.4 723.3,685.2 727.5,675.7 730.3,672.6 732.3,703 734,710.5 736.2,707.7 740.2,726.3 743,725.4 745.8,715.6 750,707.7 753.4,704.9 757,708.6 760.4,719.8 764,716.2 766.9,724 770.3,718.4 774.5,726.8 779.5,727.4 781.8,729.7 784.6,718.4 788.8,711.4 792.2,718.4 796.4,717.8 800,726.3 803.4,718.4 806.2,715 811.9,715.6 815.5,710 819.4,705.8 823,728.2 826.5,715.6 831.5,707.7 834.3,708.6 837.2,717.8 841.4,711.4 845.6,711.4 849.8,704.4 853.5,699.6 857.4,710 861.6,698.7 864.4,701.5 868.9,697.3 872.8,703 877.9,718.4 880,719 883,731.5 886.8,730 890,740.8 897,719 902.3,730 906.3,720.7 910,739.2 914,726.8 918.7,740 924.8,734.6 929.5,727.8 935.7,736 940.9,733 943.4,727.8 946.5,728.4 950.5,737.7 955.8,745.4 961,737.7 965.7,725.9 971.2,740.8 975.9,730 979,728.4 984.5,714.5 987.6,720.7 991.3,710.8 995,728.4 999,733.6 1001.5,727.8 1005.2,740.8 1011.4,726.8 1016,721.6 1018.5,730.6 1022.2,728.4 1027.8,734 1033,745.4 1037.7,730 1041.4,733 1047,714.5 1052.2,701.5 1057.8,716.6 1061.5,713 1067,726.8 1071.7,721.6 1077.3,722.2 1082.5,711.4 1086.6,719 1090.3,710.8 1092.7,713.9 1095.5,702.7 1098,704.6 1102,723.8 1105,716.6 1107.9,725.3 1110.4,721.6 1116.5,734.6 1120.6,731.5 1122.7,739.2 1128.3,740.8 1132,728.4 1136,723 1142.8,743.8 1147.5,746.3 1154.3,724.7 1158.3,732 1164.5,718.2 1170.7,713 1175.3,718.2 1177.5,711.4 1181.5,734.6 1186,731.5 1189.2,730 1193,717 1197,709.2 1199.4,713 1201.6,707.4 1203.8,713 1207.8,706 1210.9,713 1215.5,709.8 1219.2,722.2 1222.6,719 1228.8,738.6 1233,720.7 1239.3,713 1246.4,717.6 1250,725.3 1252.6,723 1256.3,734.6 1261,723.8 1263.4,725.3 1269,715.4 1272.7,706 1275.8,720.7 1279.5,725.3 1281.4,722.2 1284.5,734 1287.5,746 1289.7,745.4 1294.4,752.5" fill="none" stroke="#3fe03f" stroke-width="1" stroke-linejoin="round"/>
<path d="M103.5 160.5V759.5M1364.5 160.5V759.5M53.5 490.5H1414.5M53.5 666.5H1414.5M103.5 759.5H1364.5" stroke="#555" stroke-width="1" fill="none"/>
<path d="M99.5 178.5H103.5M1364.5 178.5H1368.5M99.5 210.5H103.5M1364.5 210.5H1368.5M99.5 243.5H103.5M1364.5 243.5H1368.5M99.5 275.5H103.5M1364.5 275.5H1368.5M99.5 307.5H103.5M1364.5 307.5H1368.5M99.5 339.5H103.5M1364.5 339.5H1368.5M99.5 371.5H103.5M1364.5 371.5H1368.5M99.5 404.5H103.5M1364.5 404.5H1368.5M99.5 436.5H103.5M1364.5 436.5H1368.5M99.5 468.5H103.5M1364.5 468.5H1368.5M99.5 507.5H103.5M1364.5 507.5H1368.5M99.5 540.5H103.5M1364.5 540.5H1368.5M99.5 572.5H103.5M1364.5 572.5H1368.5M99.5 605.5H103.5M1364.5 605.5H1368.5M99.5 638.5H103.5M1364.5 638.5H1368.5M99.5 677.5H103.5M1364.5 677.5H1368.5M99.5 733.5H103.5M1364.5 733.5H1368.5M171.5 759.5V763.5M265.5 759.5V763.5M356.5 759.5V763.5M449.5 759.5V763.5M540.5 759.5V763.5M633.5 759.5V763.5M720.5 759.5V763.5M811.5 759.5V763.5M905.5 759.5V763.5M998.5 759.5V763.5M1089.5 759.5V763.5M1180.5 759.5V763.5M1267.5 759.5V763.5M1358.5 759.5V763.5" stroke="#555" stroke-width="1" fill="none"/>
<text x="96.5" y="182.5" font-size="11" fill="#4a4f5a" text-anchor="end" font-weight="normal">130.00</text>
<text x="1372" y="182.5" font-size="11" fill="#4a4f5a" text-anchor="start" font-weight="normal">130.00</text>
<text x="96.5" y="214.5" font-size="11" fill="#4a4f5a" text-anchor="end" font-weight="normal">120.00</text>
<text x="1372" y="214.5" font-size="11" fill="#4a4f5a" text-anchor="start" font-weight="normal">120.00</text>
<text x="96.5" y="247.5" font-size="11" fill="#4a4f5a" text-anchor="end" font-weight="normal">110.00</text>
<text x="1372" y="247.5" font-size="11" fill="#4a4f5a" text-anchor="start" font-weight="normal">110.00</text>
<text x="96.5" y="311.5" font-size="11" fill="#4a4f5a" text-anchor="end" font-weight="normal">90.00</text>
<text x="1372" y="311.5" font-size="11" fill="#4a4f5a" text-anchor="start" font-weight="normal">90.00</text>
<text x="96.5" y="343.5" font-size="11" fill="#4a4f5a" text-anchor="end" font-weight="normal">80.00</text>
<text x="1372" y="343.5" font-size="11" fill="#4a4f5a" text-anchor="start" font-weight="normal">80.00</text>
<text x="96.5" y="408.5" font-size="11" fill="#4a4f5a" text-anchor="end" font-weight="normal">60.00</text>
<text x="1372" y="408.5" font-size="11" fill="#4a4f5a" text-anchor="start" font-weight="normal">60.00</text>
<text x="96.5" y="440.5" font-size="11" fill="#4a4f5a" text-anchor="end" font-weight="normal">50.00</text>
<text x="1372" y="440.5" font-size="11" fill="#4a4f5a" text-anchor="start" font-weight="normal">50.00</text>
<text x="96.5" y="472.5" font-size="11" fill="#4a4f5a" text-anchor="end" font-weight="normal">40.00</text>
<text x="1372" y="472.5" font-size="11" fill="#4a4f5a" text-anchor="start" font-weight="normal">40.00</text>
<text x="96.5" y="511.5" font-size="11" fill="#4a4f5a" text-anchor="end" font-weight="normal">7.5000</text>
<text x="1372" y="511.5" font-size="11" fill="#4a4f5a" text-anchor="start" font-weight="normal">7.5000</text>
<text x="96.5" y="544.5" font-size="11" fill="#4a4f5a" text-anchor="end" font-weight="normal">5.0000</text>
<text x="1372" y="544.5" font-size="11" fill="#4a4f5a" text-anchor="start" font-weight="normal">5.0000</text>
<text x="96.5" y="576.5" font-size="11" fill="#4a4f5a" text-anchor="end" font-weight="normal">2.5000</text>
<text x="1372" y="576.5" font-size="11" fill="#4a4f5a" text-anchor="start" font-weight="normal">2.5000</text>
<text x="96.5" y="609.5" font-size="11" fill="#4a4f5a" text-anchor="end" font-weight="normal">0.0000</text>
<text x="1372" y="609.5" font-size="11" fill="#4a4f5a" text-anchor="start" font-weight="normal">0.0000</text>
<text x="96.5" y="642.5" font-size="11" fill="#4a4f5a" text-anchor="end" font-weight="normal">-2.5000</text>
<text x="1372" y="642.5" font-size="11" fill="#4a4f5a" text-anchor="start" font-weight="normal">-2.5000</text>
<text x="96.5" y="681.5" font-size="11" fill="#4a4f5a" text-anchor="end" font-weight="normal">80.0000</text>
<text x="1372" y="681.5" font-size="11" fill="#4a4f5a" text-anchor="start" font-weight="normal">80.0000</text>
<text x="96.5" y="737.5" font-size="11" fill="#4a4f5a" text-anchor="end" font-weight="normal">40.0000</text>
<text x="1372" y="737.5" font-size="11" fill="#4a4f5a" text-anchor="start" font-weight="normal">40.0000</text>
<text x="265.5" y="777" font-size="11" fill="#4a4f5a" text-anchor="middle" font-weight="normal">May</text>
<text x="356.5" y="777" font-size="11" fill="#4a4f5a" text-anchor="middle" font-weight="normal">Jul</text>
<text x="449.5" y="777" font-size="11" fill="#4a4f5a" text-anchor="middle" font-weight="normal">Sep</text>
<text x="540.5" y="777" font-size="11" fill="#4a4f5a" text-anchor="middle" font-weight="normal">Nov</text>
<text x="633.5" y="777" font-size="11" fill="#4a4f5a" text-anchor="middle" font-weight="bold">2022</text>
<text x="720.5" y="777" font-size="11" fill="#4a4f5a" text-anchor="middle" font-weight="normal">Mar</text>
<text x="811.5" y="777" font-size="11" fill="#4a4f5a" text-anchor="middle" font-weight="normal">May</text>
<text x="905.5" y="777" font-size="11" fill="#4a4f5a" text-anchor="middle" font-weight="normal">Jul</text>
<text x="998.5" y="777" font-size="11" fill="#4a4f5a" text-anchor="middle" font-weight="normal">Sep</text>
<text x="1089.5" y="777" font-size="11" fill="#4a4f5a" text-anchor="middle" font-weight="normal">Nov</text>
<text x="1180.5" y="777" font-size="11" fill="#4a4f5a" text-anchor="middle" font-weight="bold">2023</text>
<text x="1267.5" y="777" font-size="11" fill="#4a4f5a" text-anchor="middle" font-weight="normal">Mar</text>
<text x="1348" y="777" font-size="11" fill="#4a4f5a" text-anchor="start" font-weight="normal">Ma</text>
<rect x="60" y="266.5" width="43.5" height="16" fill="#4c525e"/><text x="64" y="278.3" font-size="11" fill="#fff" text-anchor="start" font-weight="bold">100.24</text>
<rect x="1364.5" y="266.5" width="44.5" height="16" fill="#4c525e"/><text x="1372" y="278.3" font-size="11" fill="#fff" text-anchor="start" font-weight="bold">100.24</text>
<rect x="66" y="364" width="37.5" height="17" fill="#ff0000"/><text x="70" y="375.8" font-size="11" fill="#fff" text-anchor="start" font-weight="bold">69.76</text>
<rect x="1364.5" y="364" width="38.5" height="17" fill="#ff0000"/><text x="1372" y="375.8" font-size="11" fill="#fff" text-anchor="start" font-weight="bold">69.76</text>
<rect x="66" y="381" width="37.5" height="17" fill="#d962a8"/><text x="70" y="392.8" font-size="11" fill="#fff" text-anchor="start" font-weight="bold">64.72</text>
<rect x="1364.5" y="381" width="38.5" height="17" fill="#d962a8"/><text x="1372" y="392.8" font-size="11" fill="#fff" text-anchor="start" font-weight="bold">64.72</text>
<rect x="142" y="760" width="61" height="21" fill="#4c525e"/><rect x="173" y="760" width="1" height="3" fill="#fff"/><text x="148" y="773.7" font-size="11" fill="#fff" text-anchor="start" font-weight="bold" textLength="48.5" lengthAdjust="spacingAndGlyphs">02 Mar '21</text>
</svg>
<svg width="1423" height="786" viewBox="0 0 1423 786">
<path d="M17.900 17.300l2.800 4.600 6 1.400-4.100 3.600.900 6.400-5.600-2.200-5.200 2.200.800-6.400-4.200-3.600 6-1.400z" fill="none" stroke="#1e2530" stroke-width="1.100" stroke-linejoin="round"/>
<g transform="translate(1.600 -1.400) rotate(28 18.500 45.500)" fill="none" stroke="#1e2530" stroke-width="1.100" stroke-linejoin="round"><path d="M10.500 51.500c2-1.200 2.500-3.500 2.500-6.500a5.500 5.500 0 0 1 11 0c0 3 .500 5.300 2.500 6.500zM16.500 52a2 2 0 0 0 4 0"/></g>
<g fill="#1f1f1f"><rect x="42.400" y="25" width="24.900" height="29.500"/><rect x="40.600" y="24.300" width="28.300" height="1.700" rx=".700"/><rect x="40.600" y="53.400" width="28.300" height="1.700" rx=".700"/><rect x="40.600" y="30.800" width="28.300" height="1.800"/><rect x="40.600" y="46.900" width="28.300" height="1.800"/></g>
<path d="M54.700 32.600C57.500 36.500 60.900 39.500 60.900 42.300a6.100 5.800 0 0 1-12.200 0C48.700 39.500 52 36.500 54.700 32.600z" fill="#fff"/>
<circle cx="361" cy="22" r="3.500" fill="#74cf7d"/>
<path d="M412 38.500v10.500M409.800 46.500l2.200 2.700 2.200-2.700" fill="none" stroke="#3a3f48" stroke-width="1"/>
<path d="M610.500 49v-10.500M608.300 41.200l2.200-2.700 2.200 2.700" fill="none" stroke="#3a3f48" stroke-width="1"/>
<path d="M92 135h8l-4 4.500zM151 135h8l-4 4.500zM1279 135h8l-4 4.500z" fill="#22262d"/>
<g fill="none" stroke="#2d333d" stroke-width="1"><rect x="127.500" y="131" width="3" height="12" rx="0.500"/><path d="M129 129v2M129 143v2M135 130v3.500M135 140.500v3.500"/><rect x="133.500" y="133.500" width="3" height="7" rx="0.500"/></g>
<g fill="none" stroke="#2d333d" stroke-width="1"><circle cx="185" cy="132" r="1.600"/><circle cx="180.500" cy="141" r="1.900"/><circle cx="190" cy="141" r="1.900"/><path d="M185 133.600v3M181.500 139.300c.500-2.700 6.500-2.700 7.500 0"/></g>
<path d="M273 139c2-4 4-4 6-1.500s4 2 6-2.500" fill="none" stroke="#2d333d" stroke-width="1"/>
<rect x="1309.500" y="128.500" width="18" height="16.500" rx="2.500" fill="#fff" stroke="#2d333d" stroke-width="1.400"/>
<g fill="none" stroke="#555b66" stroke-width="1.15" transform="translate(1357 137) scale(.84) translate(-1357 -137)"><circle cx="1357" cy="137" r="1.800"/><path d="M1355.500 131h3l.600 1.700 1.700 1 1.800-.400 1.500 2.600-1.200 1.300v1.600l1.200 1.300-1.500 2.600-1.800-.400-1.700 1-.600 1.700h-3l-.600-1.700-1.700-1-1.800.400-1.500-2.600 1.200-1.300v-1.600l-1.200-1.300 1.500-2.600 1.800.400 1.700-1z"/></g>
<path d="M1391 132l4 4M1401 132l-4 4M1391 142l4-4M1401 142l-4-4M1391 134.500v-2.500h2.500M1398.500 132h2.500v2.500M1391 139.500v2.500h2.500M1398.500 142h2.500v-2.500" fill="none" stroke="#3b414c" stroke-width="1"/>
<rect x="12" y="126" width="22" height="22" rx="3" fill="#e0f6fb"/>
<path d="M23.500 129.500v6M23.500 139.500v6M15.500 137.500h6M25.500 137.500h6" stroke="#5a9fc6" stroke-width="1" fill="none"/>
<g fill="none" stroke="#4a505b" stroke-width="1" stroke-linecap="round" stroke-linejoin="round"><path d="M18.300 167.200l9.400-9"/><rect x="16.500" y="167" width="2" height="2"/><rect x="27.700" y="156.500" width="2" height="2"/></g>
<g fill="none" stroke="#4a505b" stroke-width="1" stroke-linecap="round" stroke-linejoin="round"><path d="M18.500 186.200l4.200-3.600M18.300 193.800l8.600-8M25.600 193.800l4.600-4.200"/><rect x="16.500" y="186.200" width="2" height="2"/><rect x="16.500" y="193.600" width="2" height="2"/><rect x="23.800" y="193.600" width="2" height="2"/><circle cx="21.300" cy="191" r="0.700" fill="#4a505b"/></g>
<g fill="none" stroke="#4a505b" stroke-width="1" stroke-linecap="round" stroke-linejoin="round"><path d="M15.700 220.900c1.500-4 4-7 7.700-7c2.500 1.200 2.300 4-.200 5.800c-2 1.200-4.500 1.200-7.500 1.200zM24.800 211.800c-.300 1.800 1 2.600 2.200 2.100l4.600-3.500"/></g>
<g fill="none" stroke="#4a505b" stroke-width="1" stroke-linecap="round" stroke-linejoin="round"><path d="M19.200 237v-1.500h8.400v1.500M23.400 235.500v11.300M21.700 246.800h3.400"/></g>
<g fill="none" stroke="#4a505b" stroke-width="1" stroke-linecap="round" stroke-linejoin="round"><path d="M17.500 272l1.400-10.900 3.100 4.900 5.600-4.200 1.700 8.800-7.300-4.600-4.500 6M18.900 261.100l8.700.700"/><rect x="17.900" y="260.100" width="2" height="2" fill="#fff"/><circle cx="27.600" cy="261.800" r="1.100" fill="#fff"/><circle cx="17.500" cy="272" r="1.200" fill="#fff"/><circle cx="29.300" cy="270.600" r="1.200" fill="#fff"/></g>
<g fill="none" stroke="#4a505b" stroke-width="1" stroke-linecap="round" stroke-linejoin="round"><path d="M18.200 287.500h11.500M18.200 294.700h10.300M23.400 289.300v8M22 290.700l1.400-1.500 1.400 1.500M22 295.900l1.400 1.500 1.400-1.500"/><path d="M18.200 299.200h11.500" stroke="#b5b8bd" stroke-width="1.600"/><circle cx="16.900" cy="287.500" r="1.200"/><circle cx="16.900" cy="294.700" r="1.200"/><circle cx="29.800" cy="294.700" r="1.200"/><circle cx="16.900" cy="299.200" r="1.200"/></g>
<path d="M17.500 319.700h9M22.800 315.400l4.400 4.300-4.400 4.300" fill="none" stroke="#2d3540" stroke-width="2.300" stroke-linecap="round" stroke-linejoin="round"/>
<g fill="none" stroke="#4a505b" stroke-width="1" stroke-linecap="round" stroke-linejoin="round"><path d="M15.300 362.400l12.300-12.300 3.100 3.200-12.400 12.500zM18 359.800l1.400 1.400M20.500 357.300l1.400 1.400M23 354.800l1.400 1.400M25.500 352.300l1.400 1.400"/></g>
<g fill="none" stroke="#4a505b" stroke-width="1" stroke-linecap="round" stroke-linejoin="round"><circle cx="21.700" cy="382.800" r="4.900"/><path d="M25.300 386.400l2.500 2.600" stroke-width="1.400"/><path d="M19.500 382.800h4.400M21.700 380.600v4.400" stroke="#9a9ea6"/></g>
<g fill="none" stroke="#4a505b" stroke-width="1" stroke-linecap="round" stroke-linejoin="round"><path d="M18.100 428.600v-7.300a4.900 4.900 0 0 1 9.800 0v7.300h-2.900v-7.300a2 2 0 0 0-4 0v7.300zM18.100 425.300h2.900M25 425.300h2.900"/></g>
<g fill="none" stroke="#4a505b" stroke-width="1" stroke-linecap="round" stroke-linejoin="round"><path d="M15.700 450.700l.800-3 7.500-6.700 2 2.200-7.500 6.700zM17.800 446.500l7.200-6.400"/><rect x="24" y="450.500" width="5" height="4.300" rx="0.500" fill="#fff"/><path d="M25 450.500v-1.300a1.500 1.500 0 0 1 3 0"/></g>
<g fill="none" stroke="#4a505b" stroke-width="1" stroke-linecap="round" stroke-linejoin="round"><rect x="18.200" y="471" width="10" height="10" rx="1"/><path d="M20.500 471v-3.300a2.700 2.700 0 0 1 5.200-.800"/><circle cx="23.200" cy="476.500" r="0.800" fill="#4a505b"/></g>
<g fill="none" stroke="#4a505b" stroke-width="1" stroke-linecap="round" stroke-linejoin="round"><path d="M16.800 500.700q6.300-8 12.400 0q-6.100 8-12.400 0z"/><circle cx="23.100" cy="500.700" r="1.700" fill="#4a505b"/></g>
<g fill="none" stroke="#4a505b" stroke-width="1" stroke-linecap="round" stroke-linejoin="round"><path d="M23.100 529l6 6.400-6 5.500-6-5.500zM17.600 538.300l5.500 4.900 5.500-4.900M18.600 541.300l4.500 4 4.500-4"/></g>
<g fill="none" stroke="#4a505b" stroke-width="1" stroke-linecap="round" stroke-linejoin="round"><path d="M18.600 557.500h8.400v12.500a2 2 0 0 1-2 2h-4.400a2 2 0 0 1-2-2zM18 557h9.600M20.800 555.700h4M21 560v9M22.800 560v9M24.600 560v9"/></g>
<g transform="translate(218 193)"><rect width="14" height="14" fill="#8c9196" fill-opacity="0.5"/><ellipse cx="7" cy="7" rx="4.700" ry="3.500" fill="none" stroke="#fff" stroke-width="1.300"/><circle cx="7" cy="7" r="1.500" fill="none" stroke="#fff" stroke-width="1.300"/></g>
<g transform="translate(235 193)"><rect width="14" height="14" fill="#8c9196" fill-opacity="0.5"/><circle cx="7" cy="7" r="2.700" fill="none" stroke="#fff" stroke-width="2"/><path d="M7 1.800v2.500M7 9.700v2.500M1.800 7h2.500M9.700 7h2.500M3.300 3.300l1.800 1.800M8.900 8.900l1.800 1.800M10.700 3.300l-1.800 1.800M5.100 8.900l-1.800 1.800" stroke="#fff" stroke-width="1.900"/></g>
<g transform="translate(252 193)"><rect width="14" height="14" fill="#8c9196" fill-opacity="0.5"/><path d="M2.5 2.5l9 9M11.5 2.5l-9 9" stroke="#fff" stroke-width="1.5"/></g>
<path d="M201 199.0h6l-3 3.5z" fill="#c4c4c4"/>
<g transform="translate(225 214)"><rect width="14" height="14" fill="#8c9196" fill-opacity="0.5"/><ellipse cx="7" cy="7" rx="4.700" ry="3.500" fill="none" stroke="#fff" stroke-width="1.300"/><circle cx="7" cy="7" r="1.500" fill="none" stroke="#fff" stroke-width="1.300"/></g>
<g transform="translate(242 214)"><rect width="14" height="14" fill="#8c9196" fill-opacity="0.5"/><circle cx="7" cy="7" r="2.700" fill="none" stroke="#fff" stroke-width="2"/><path d="M7 1.800v2.500M7 9.700v2.500M1.800 7h2.500M9.700 7h2.500M3.300 3.300l1.800 1.800M8.900 8.900l1.800 1.800M10.700 3.300l-1.800 1.800M5.100 8.900l-1.800 1.800" stroke="#fff" stroke-width="1.900"/></g>
<g transform="translate(259 214)"><rect width="14" height="14" fill="#8c9196" fill-opacity="0.5"/><path d="M2.5 2.5l9 9M11.5 2.5l-9 9" stroke="#fff" stroke-width="1.5"/></g>
<path d="M207.5 219.8h6l-3 3.5z" fill="#c4c4c4"/>
<g transform="translate(225 234)"><rect width="14" height="14" fill="#8c9196" fill-opacity="0.5"/><ellipse cx="7" cy="7" rx="4.700" ry="3.500" fill="none" stroke="#fff" stroke-width="1.300"/><circle cx="7" cy="7" r="1.500" fill="none" stroke="#fff" stroke-width="1.300"/></g>
<g transform="translate(242 234)"><rect width="14" height="14" fill="#8c9196" fill-opacity="0.5"/><circle cx="7" cy="7" r="2.700" fill="none" stroke="#fff" stroke-width="2"/><path d="M7 1.800v2.500M7 9.700v2.500M1.800 7h2.500M9.700 7h2.500M3.300 3.300l1.800 1.800M8.900 8.900l1.800 1.800M10.700 3.300l-1.800 1.800M5.100 8.900l-1.800 1.800" stroke="#fff" stroke-width="1.900"/></g>
<g transform="translate(259 234)"><rect width="14" height="14" fill="#8c9196" fill-opacity="0.5"/><path d="M2.5 2.5l9 9M11.5 2.5l-9 9" stroke="#fff" stroke-width="1.5"/></g>
<path d="M207.5 239.5h6l-3 3.5z" fill="#c4c4c4"/>
<g transform="translate(183 254)"><rect width="14" height="14" fill="#3cb2ea"/><ellipse cx="7" cy="7" rx="4.700" ry="3.500" fill="none" stroke="#fff" stroke-width="1.300"/><circle cx="7" cy="7" r="1.500" fill="none" stroke="#fff" stroke-width="1.300"/></g>
<g transform="translate(200 254)"><rect width="14" height="14" fill="#8c9196" fill-opacity="0.5"/><circle cx="7" cy="7" r="2.700" fill="none" stroke="#fff" stroke-width="2"/><path d="M7 1.800v2.500M7 9.700v2.500M1.800 7h2.500M9.700 7h2.500M3.300 3.300l1.800 1.800M8.900 8.900l1.800 1.800M10.700 3.300l-1.800 1.800M5.100 8.900l-1.800 1.800" stroke="#fff" stroke-width="1.900"/></g>
<g transform="translate(217 254)"><rect width="14" height="14" fill="#8c9196" fill-opacity="0.5"/><path d="M2.5 2.5l9 9M11.5 2.5l-9 9" stroke="#fff" stroke-width="1.5"/></g>
<path d="M165 259.9h6l-3 3.5z" fill="#c4c4c4"/>
<g transform="translate(254 499)"><rect width="14" height="14" fill="#8c9196" fill-opacity="0.5"/><ellipse cx="7" cy="7" rx="4.700" ry="3.500" fill="none" stroke="#fff" stroke-width="1.300"/><circle cx="7" cy="7" r="1.500" fill="none" stroke="#fff" stroke-width="1.300"/></g>
<g transform="translate(271 499)"><rect width="14" height="14" fill="#8c9196" fill-opacity="0.5"/><circle cx="7" cy="7" r="2.700" fill="none" stroke="#fff" stroke-width="2"/><path d="M7 1.800v2.500M7 9.700v2.500M1.800 7h2.500M9.700 7h2.500M3.300 3.300l1.800 1.800M8.900 8.900l1.800 1.800M10.700 3.300l-1.800 1.800M5.100 8.900l-1.800 1.800" stroke="#fff" stroke-width="1.900"/></g>
<g transform="translate(288 499)"><rect width="14" height="14" fill="#8c9196" fill-opacity="0.5"/><path d="M2.5 2.5l9 9M11.5 2.5l-9 9" stroke="#fff" stroke-width="1.5"/></g>
<path d="M237 504.8h6l-3 3.5z" fill="#c4c4c4"/>
<g transform="translate(173 675)"><rect width="14" height="14" fill="#8c9196" fill-opacity="0.5"/><ellipse cx="7" cy="7" rx="4.700" ry="3.500" fill="none" stroke="#fff" stroke-width="1.300"/><circle cx="7" cy="7" r="1.500" fill="none" stroke="#fff" stroke-width="1.300"/></g>
<g transform="translate(190 675)"><rect width="14" height="14" fill="#8c9196" fill-opacity="0.5"/><circle cx="7" cy="7" r="2.700" fill="none" stroke="#fff" stroke-width="2"/><path d="M7 1.800v2.500M7 9.700v2.500M1.800 7h2.500M9.700 7h2.500M3.300 3.300l1.800 1.800M8.900 8.900l1.800 1.800M10.700 3.300l-1.800 1.800M5.100 8.900l-1.800 1.800" stroke="#fff" stroke-width="1.900"/></g>
<g transform="translate(207 675)"><rect width="14" height="14" fill="#8c9196" fill-opacity="0.5"/><path d="M2.5 2.5l9 9M11.5 2.5l-9 9" stroke="#fff" stroke-width="1.5"/></g>
<path d="M156 680.9h6l-3 3.5z" fill="#c4c4c4"/>
<path d="M374 178.5h6l-3 3.5z" fill="#c4c4c4"/>
<circle cx="116.5" cy="179.5" r="6" fill="none" stroke="#3b414c" stroke-width="1.2"/><path d="M113.5 178.3l3 3 3-3" fill="none" stroke="#3b414c" stroke-width="1.2"/>
<rect x="131" y="173.5" width="12" height="12" rx="1.5" fill="none" stroke="#3b414c" stroke-width="1.2"/><path d="M131 179.5h12" stroke="#3b414c" stroke-width="1.2"/>
<rect x="1327" y="188" width="14" height="14" fill="#ececec"/><rect x="1344" y="188" width="14" height="14" fill="#ececec"/>
<path d="M1334 190.5v8M1332 196.5l2 2.5 2-2.5z" stroke="#fff" stroke-width="1.4" fill="#fff"/>
<path d="M1351 191.5v7M1349 193l2-2.5 2 2.5zM1349 197l2 2.5 2-2.5z" stroke="#fff" stroke-width="1.2" fill="#fff"/>
<rect x="48.5" y="703.5" width="7" height="59" fill="#fff" stroke="#d8d8d8"/><path d="M49.5 733.5l4.5-3v6z" fill="#333"/>
</svg>
<span class="t" id="title" style="left:84px;top:14.8px;font-size:21px;line-height:27.3px;color:#2f3641;font-weight:400;transform:scaleX(1.0447);-webkit-text-stroke:0.6px #2f3641">Crude Oil Futures (May-23)</span>
<span class="t" id="sub" style="left:84px;top:40.9px;font-size:12.5px;line-height:16.2px;color:#333a45;font-weight:400;transform:scaleX(1.0222)">Crude Oil Futures (May-23)</span>
<span class="t" id="sell" style="left:388px;top:36.6px;font-size:10.5px;line-height:13.7px;color:#3a3f48;font-weight:400;transform:scaleX(0.9706)">Sell</span>
<span class="t" id="sellp1" style="left:418.5px;top:33.5px;font-size:16px;line-height:20.8px;color:#3a3f48;font-weight:400;transform:scaleX(0.9438)">64.</span>
<span class="t" id="sellp2" style="left:440px;top:29.5px;font-size:20px;line-height:26.0px;color:#3a3f48;font-weight:400;transform:scaleX(0.9213)">72</span>
<span class="t" id="qty" style="left:516.5px;top:33.5px;font-size:13px;line-height:16.9px;color:#333a45;font-weight:400;transform:scaleX(0.9330)">10</span>
<span class="t" id="buy" style="left:585.7px;top:36.6px;font-size:10.5px;line-height:13.7px;color:#3a3f48;font-weight:400;transform:scaleX(0.9948)">Buy</span>
<span class="t" id="buyp1" style="left:617.5px;top:33.5px;font-size:16px;line-height:20.8px;color:#3a3f48;font-weight:400;transform:scaleX(0.9438)">64.</span>
<span class="t" id="buyp2" style="left:639px;top:29.5px;font-size:20px;line-height:26.0px;color:#3a3f48;font-weight:400;transform:scaleX(0.9213)">77</span>
<span class="t" id="chg1" style="left:672px;top:20.7px;font-size:13.5px;line-height:17.6px;color:#e04a2f;font-weight:400;transform:scaleX(1.0071)">-2.53</span>
<span class="t" id="chg2" style="left:672px;top:40.7px;font-size:13.5px;line-height:17.6px;color:#e04a2f;font-weight:400;transform:scaleX(0.9756)">(-3.76%)</span>
<span class="t" id="t1" style="left:11px;top:84.7px;font-size:13.5px;line-height:17.6px;color:#3590ee;font-weight:400;transform:scaleX(0.9844)">Chart</span>
<span class="t" id="t2" style="left:72px;top:84.7px;font-size:13.5px;line-height:17.6px;color:#3c434e;font-weight:400;transform:scaleX(0.9379)">Key Statistics</span>
<span class="t" id="t3" style="left:176.5px;top:84.7px;font-size:13.5px;line-height:17.6px;color:#3c434e;font-weight:400;transform:scaleX(0.9800)">Profile</span>
<span class="t" id="t4" style="left:242.5px;top:84.7px;font-size:13.5px;line-height:17.6px;color:#3c434e;font-weight:400;transform:scaleX(0.9560)">Related Instruments</span>
<span class="t" id="t5" style="left:386.5px;top:84.7px;font-size:13.5px;line-height:17.6px;color:#3c434e;font-weight:400;transform:scaleX(0.9392)">Open Positions</span>
<span class="t" id="t6" style="left:500.5px;top:84.7px;font-size:13.5px;line-height:17.6px;color:#3c434e;font-weight:400;transform:scaleX(0.9814)">Orders</span>
<span class="t" id="tbD" style="left:68.5px;top:129.1px;font-size:13px;line-height:16.9px;color:#333a45;font-weight:400;transform:scaleX(0.9052)">D</span>
<span class="t" id="tbC" style="left:200px;top:128.7px;font-size:13.5px;line-height:17.6px;color:#333a45;font-weight:400;transform:scaleX(0.9364)">Compare</span>
<span class="t" id="tbI" style="left:293px;top:128.7px;font-size:13.5px;line-height:17.6px;color:#333a45;font-weight:400;transform:scaleX(0.9738)">Indicators</span>
<span class="t" id="tbS" style="left:1224.5px;top:128.7px;font-size:13.5px;line-height:17.6px;color:#333a45;font-weight:400;transform:scaleX(0.8945)">Sell Rate</span>
<span class="t" id="l0" style="left:149.6px;top:169.6px;font-size:16px;line-height:20.8px;color:#454b57;font-weight:400;transform:scaleX(0.9774)">Crude Oil Futures (May-23), 1D</span>
<span class="t" id="k0" style="left:397px;top:169.9px;font-size:15.5px;line-height:20.2px;color:#454b57;font-weight:400;transform:scaleX(0.8705)">O</span>
<span class="t" id="v0" style="left:410.6px;top:169.9px;font-size:15.5px;line-height:20.2px;color:#ff3b3b;font-weight:400;transform:scaleX(0.9408);-webkit-text-stroke:0.45px #ff3b3b">60.26</span>
<span class="t" id="k1" style="left:458px;top:169.9px;font-size:15.5px;line-height:20.2px;color:#454b57;font-weight:400;transform:scaleX(0.9372)">H</span>
<span class="t" id="v1" style="left:471px;top:169.9px;font-size:15.5px;line-height:20.2px;color:#ff3b3b;font-weight:400;transform:scaleX(0.9408);-webkit-text-stroke:0.45px #ff3b3b">61.20</span>
<span class="t" id="k2" style="left:518.5px;top:169.9px;font-size:15.5px;line-height:20.2px;color:#454b57;font-weight:400;transform:scaleX(0.8696)">L</span>
<span class="t" id="v2" style="left:527.6px;top:169.9px;font-size:15.5px;line-height:20.2px;color:#ff3b3b;font-weight:400;transform:scaleX(0.9408);-webkit-text-stroke:0.45px #ff3b3b">59.24</span>
<span class="t" id="k3" style="left:574.6px;top:169.9px;font-size:15.5px;line-height:20.2px;color:#454b57;font-weight:400;transform:scaleX(0.9372)">C</span>
<span class="t" id="v3" style="left:587.3px;top:169.9px;font-size:15.5px;line-height:20.2px;color:#ff3b3b;font-weight:400;transform:scaleX(0.9408);-webkit-text-stroke:0.45px #ff3b3b">59.42</span>
<span class="t" id="l1" style="left:110px;top:193.9px;font-size:12px;line-height:15.6px;color:#454b57;font-weight:400;transform:scaleX(0.9551)">MA (50, close, 0)</span>
<span class="t" id="l1v" style="left:274.5px;top:193.9px;font-size:12px;line-height:15.6px;color:#ff22ff;font-weight:400;transform:scaleX(1.0025)">54.5376</span>
<span class="t" id="l2" style="left:110px;top:215.0px;font-size:12px;line-height:15.6px;color:#454b57;font-weight:400;transform:scaleX(0.9616)">MA (100, close, 0)</span>
<span class="t" id="l2v" style="left:281.3px;top:215.0px;font-size:12px;line-height:15.6px;color:#1a1aff;font-weight:400;transform:scaleX(1.0140)">48.4279</span>
<span class="t" id="l3" style="left:110px;top:235.0px;font-size:12px;line-height:15.6px;color:#454b57;font-weight:400;transform:scaleX(0.9616)">MA (200, close, 0)</span>
<span class="t" id="l3v" style="left:281.3px;top:235.0px;font-size:12px;line-height:15.6px;color:#ff2020;font-weight:400;transform:scaleX(1.0353)">44.1132</span>
<span class="t" id="l4" style="left:110px;top:255.0px;font-size:12px;line-height:15.6px;color:#454b57;font-weight:400;transform:scaleX(0.9439)">BB (20, 2)</span>
<span class="t" id="l5" style="left:110.7px;top:500.1px;font-size:12px;line-height:15.6px;color:#454b57;font-weight:400;transform:scaleX(0.9450)">MACD (12, 26, close, 9)</span>
<span class="t" id="l5a" style="left:310.8px;top:500.1px;font-size:12px;line-height:15.6px;color:#ff2020;font-weight:400;transform:scaleX(0.9876)">-0.3003</span>
<span class="t" id="l5b" style="left:362px;top:500.1px;font-size:12px;line-height:15.6px;color:#1a1aff;font-weight:400;transform:scaleX(0.9808)">2.0299</span>
<span class="t" id="l5c" style="left:409.2px;top:500.1px;font-size:12px;line-height:15.6px;color:#ff2020;font-weight:400;transform:scaleX(0.9945)">2.3302</span>
<span class="t" id="l6" style="left:110.7px;top:675.9px;font-size:12px;line-height:15.6px;color:#454b57;font-weight:400;transform:scaleX(0.8951)">RSI (14)</span>
<span class="t" id="l6v" style="left:229.9px;top:675.9px;font-size:12px;line-height:15.6px;color:#14f014;font-weight:400;transform:scaleX(0.9910)">54.3483</span>
</body></html>
